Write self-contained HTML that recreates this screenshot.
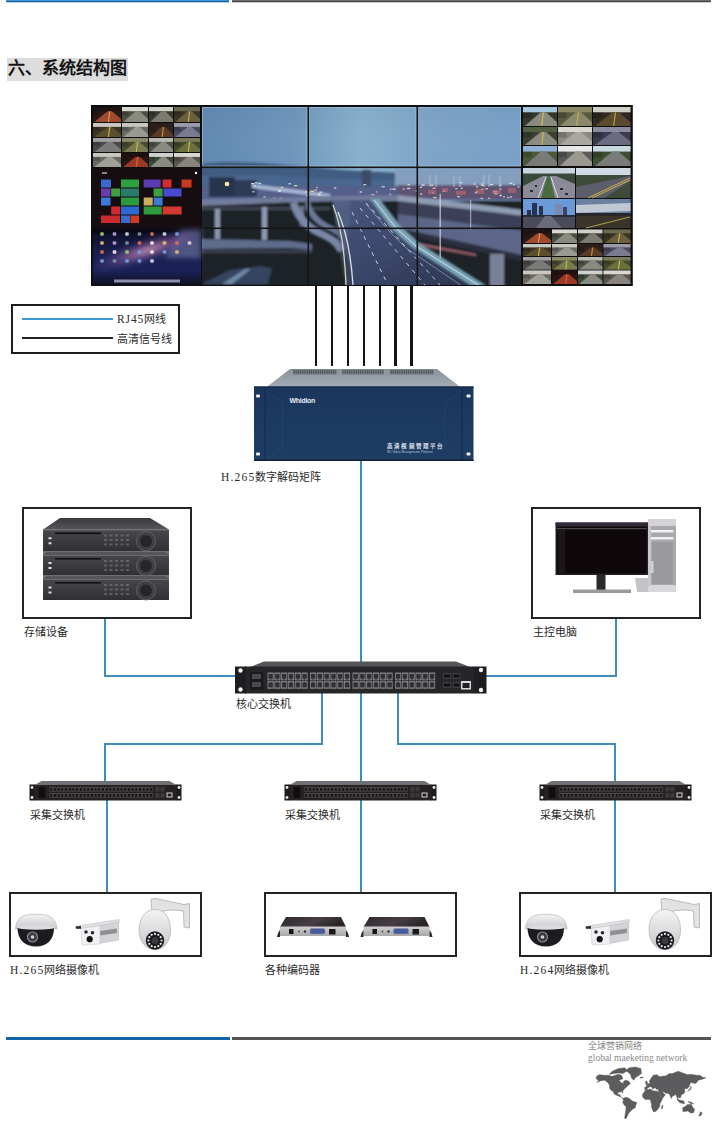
<!DOCTYPE html>
<html lang="zh-CN"><head><meta charset="utf-8">
<style>
*{margin:0;padding:0;box-sizing:border-box}
html,body{width:720px;height:1121px;background:#fff;overflow:hidden}
body{position:relative;font-family:"Liberation Serif",serif;color:#222}
.a{position:absolute}
.bl{position:absolute;background:#3f8cbf}
.lbl{position:absolute;font-size:11px;line-height:14px;white-space:nowrap;color:#2a2a2a;font-weight:bold}
.box{position:absolute;border:2px solid #242424;background:#fff}
</style></head><body>

<!-- top bars -->
<div class="a" style="left:6px;top:0;width:223px;height:3px;background:linear-gradient(#3a95dd 0,#3a95dd 1px,#1a64a0 1px,#1a64a0 2px,#9cc0dc 2px,#cfe0ee 3px);border-radius:0 0 0 2px"></div>
<div class="a" style="left:232px;top:0;width:479px;height:3px;background:linear-gradient(#6a6a6a 0,#6a6a6a 1px,#4a4a4a 1px,#4a4a4a 2px,#b0b0b0 2px,#dddddd 3px);border-radius:0 0 2px 0"></div>

<!-- title -->
<div class="a" style="left:7px;top:58px;width:121px;height:23px;background:#dddddd"></div>
<div class="a" style="left:8px;top:59px;font-size:17px;line-height:20px;font-weight:600;color:#151515;white-space:nowrap;letter-spacing:0px">六、系统结构图</div>

<!-- video wall -->
<!--WALL--><svg class="a" style="left:0;top:0" width="720" height="300" viewBox="0 0 720 300"><defs>
<linearGradient id="sky" x1="0" y1="0" x2="1" y2="0">
<stop offset="0" stop-color="#6089b2"/><stop offset="0.28" stop-color="#6e96bc"/><stop offset="0.5" stop-color="#8ab2cc"/><stop offset="0.72" stop-color="#7ea4c8"/><stop offset="1" stop-color="#7aa0c8"/>
</linearGradient>
<linearGradient id="skyv" x1="0" y1="0" x2="0" y2="1">
<stop offset="0" stop-color="#1a2a40" stop-opacity="0.04"/><stop offset="0.7" stop-color="#fff" stop-opacity="0"/><stop offset="1" stop-color="#1a2a40" stop-opacity="0.06"/>
</linearGradient>
<linearGradient id="mac" x1="0" y1="0" x2="0" y2="1">
<stop offset="0" stop-color="#0c0c22"/><stop offset="0.45" stop-color="#1a2050"/><stop offset="0.75" stop-color="#1a2258"/><stop offset="1" stop-color="#10101e"/>
</linearGradient>
<radialGradient id="gal" cx="0.5" cy="0.5" r="0.5">
<stop offset="0" stop-color="#e0a0c0" stop-opacity="0.9"/><stop offset="0.5" stop-color="#8a5aa0" stop-opacity="0.5"/><stop offset="1" stop-color="#3a3a80" stop-opacity="0"/>
</radialGradient>
<linearGradient id="road" x1="0" y1="0" x2="1" y2="1">
<stop offset="0" stop-color="#4a5880"/><stop offset="1" stop-color="#2c3652"/>
</linearGradient>
<filter id="bl3" x="-20%" y="-20%" width="140%" height="140%"><feGaussianBlur stdDeviation="2.5"/></filter>
<filter id="bl1" x="-5%" y="-5%" width="110%" height="110%"><feGaussianBlur stdDeviation="0.9"/></filter>
<clipPath id="cityclip"><rect x="202" y="107" width="319" height="178"/></clipPath>
</defs>
<!-- frame -->
<rect x="91" y="105" width="541.8" height="181" fill="#0e0e0e"/>
<!-- city photo -->
<g clip-path="url(#cityclip)">
<rect x="202" y="107" width="319" height="178" fill="url(#sky)"/>
<rect x="202" y="107" width="319" height="75" fill="url(#skyv)"/>
<g filter="url(#bl1)">
<polygon points="200,164 225,162 260,163 300,166 340,170 380,172 420,174 470,175 525,176 525,200 200,200" fill="#3f5c80"/>
<polygon points="200,176 260,175 320,178 400,180 525,182 525,200 200,200" fill="#4a6690"/>
<rect x="200" y="186" width="325" height="14" fill="#55608a"/>
<rect x="209" y="177" width="26" height="20" fill="#26344e"/>
<rect x="235" y="180" width="22" height="17" fill="#2e3a56"/>
<rect x="362" y="170" width="9" height="16" fill="#3a4c66"/>
<polygon points="395,168 525,168 525,186 395,186" fill="#849fbe"/>
<polygon points="252,184 330,194 330,198 252,188" fill="#a8b8d8"/>
<rect x="398" y="185" width="127" height="14" fill="#5e5272"/>
</g>
<circle cx="227" cy="184" r="2.3" fill="#ffe6a0"/>
<g opacity="0.8"><rect x="310.7" y="190.7" width="3.3" height="1.3" fill="#ffe0b0"/><rect x="375.8" y="191.3" width="1.5" height="1.3" fill="#f8d0c0"/><rect x="476.1" y="186.1" width="1.9" height="1.3" fill="#f0f4ff"/><rect x="442.9" y="190.7" width="2.5" height="1.3" fill="#f8d0c0"/><rect x="421.4" y="184.4" width="3.2" height="1.3" fill="#f0f4ff"/><rect x="389.4" y="193.9" width="1.8" height="1.3" fill="#e8eef8"/><rect x="509.3" y="182.7" width="3.1" height="1.3" fill="#e8eef8"/><rect x="319.4" y="191.5" width="2.9" height="1.3" fill="#d8e4f0"/><rect x="499.2" y="188.3" width="2.4" height="1.3" fill="#f8d0c0"/><rect x="503.2" y="196.1" width="1.6" height="1.3" fill="#e8eef8"/><rect x="381.6" y="186.1" width="3.1" height="1.3" fill="#d8e4f0"/><rect x="481.0" y="188.7" width="2.6" height="1.3" fill="#d8e4f0"/><rect x="392.4" y="188.5" width="3.3" height="1.3" fill="#f0f4ff"/><rect x="433.2" y="196.9" width="3.5" height="1.3" fill="#ffe0b0"/><rect x="430.3" y="184.6" width="3.4" height="1.3" fill="#ffe0b0"/><rect x="494.7" y="191.1" width="2.8" height="1.3" fill="#f0f4ff"/><rect x="517.7" y="186.3" width="1.6" height="1.3" fill="#e8eef8"/><rect x="480.7" y="197.8" width="2.2" height="1.3" fill="#e8eef8"/><rect x="263.4" y="196.4" width="2.1" height="1.3" fill="#e8eef8"/><rect x="457.2" y="196.0" width="2.7" height="1.3" fill="#e8eef8"/><rect x="455.2" y="188.0" width="2.2" height="1.3" fill="#f8d0c0"/><rect x="488.1" y="197.7" width="2.0" height="1.3" fill="#f8d0c0"/><rect x="254.9" y="182.1" width="2.7" height="1.3" fill="#e8eef8"/><rect x="253.7" y="185.2" width="2.1" height="1.3" fill="#d8e4f0"/><rect x="317.7" y="193.0" width="2.1" height="1.3" fill="#ffe0b0"/><rect x="509.6" y="196.3" width="2.3" height="1.3" fill="#d8e4f0"/><rect x="485.1" y="188.2" width="2.9" height="1.3" fill="#f8d0c0"/><rect x="273.3" y="197.6" width="2.0" height="1.3" fill="#f8d0c0"/><rect x="420.1" y="193.4" width="2.4" height="1.3" fill="#ffe0b0"/><rect x="316.3" y="186.8" width="1.5" height="1.3" fill="#ffe0b0"/><rect x="359.6" y="191.3" width="2.3" height="1.3" fill="#e8eef8"/><rect x="407.6" y="184.1" width="2.4" height="1.3" fill="#ffe0b0"/><rect x="432.5" y="187.6" width="3.0" height="1.3" fill="#ffe0b0"/><rect x="251.1" y="183.0" width="3.4" height="1.3" fill="#e8eef8"/><rect x="314.3" y="189.3" width="2.7" height="1.3" fill="#f8d0c0"/><rect x="294.0" y="185.0" width="3.2" height="1.3" fill="#ffe0b0"/><rect x="317.9" y="194.6" width="3.0" height="1.3" fill="#e8eef8"/><rect x="252.4" y="191.1" width="2.1" height="1.3" fill="#f0f4ff"/><rect x="306.4" y="194.9" width="2.2" height="1.3" fill="#f0f4ff"/><rect x="432.1" y="192.4" width="1.7" height="1.3" fill="#e8eef8"/><rect x="333.9" y="187.3" width="2.4" height="1.3" fill="#f0f4ff"/><rect x="481.1" y="184.7" width="3.0" height="1.3" fill="#ffe0b0"/><rect x="305.2" y="191.1" width="2.0" height="1.3" fill="#ffe0b0"/><rect x="278.4" y="190.5" width="2.1" height="1.3" fill="#f0f4ff"/><rect x="475.8" y="191.2" width="2.2" height="1.3" fill="#ffe0b0"/><rect x="473.5" y="183.4" width="2.2" height="1.3" fill="#f8d0c0"/><rect x="280.8" y="186.7" width="2.4" height="1.3" fill="#ffe0b0"/><rect x="420.0" y="186.6" width="2.3" height="1.3" fill="#f8d0c0"/><rect x="499.1" y="184.5" width="2.5" height="1.3" fill="#e8eef8"/><rect x="474.8" y="192.0" width="2.4" height="1.3" fill="#f8d0c0"/><rect x="507.2" y="196.8" width="1.6" height="1.3" fill="#f0f4ff"/><rect x="371.0" y="194.1" width="3.4" height="1.3" fill="#f8d0c0"/><rect x="395.1" y="196.2" width="3.2" height="1.3" fill="#e8eef8"/><rect x="513.0" y="183.9" width="1.6" height="1.3" fill="#f0f4ff"/><rect x="494.4" y="193.1" width="3.3" height="1.3" fill="#f0f4ff"/><rect x="493.3" y="191.2" width="2.5" height="1.3" fill="#e8eef8"/><rect x="278.3" y="190.1" width="2.8" height="1.3" fill="#f0f4ff"/><rect x="389.9" y="188.6" width="1.7" height="1.3" fill="#f8d0c0"/><rect x="279.6" y="197.6" width="2.5" height="1.3" fill="#f8d0c0"/><rect x="460.9" y="187.6" width="1.7" height="1.3" fill="#f0f4ff"/><rect x="490.0" y="183.9" width="3.1" height="1.3" fill="#f0f4ff"/><rect x="499.4" y="194.9" width="2.5" height="1.3" fill="#e8eef8"/><rect x="402.6" y="188.4" width="2.0" height="1.3" fill="#ffe0b0"/><rect x="415.6" y="190.3" width="2.4" height="1.3" fill="#e8eef8"/><rect x="459.3" y="182.0" width="3.1" height="1.3" fill="#e8eef8"/><rect x="257.7" y="182.8" width="3.4" height="1.3" fill="#d8e4f0"/><rect x="480.8" y="183.4" width="2.5" height="1.3" fill="#f8d0c0"/><rect x="288.3" y="183.1" width="2.8" height="1.3" fill="#d8e4f0"/><rect x="406.9" y="187.8" width="3.5" height="1.3" fill="#f0f4ff"/><rect x="363.3" y="184.0" width="2.9" height="1.3" fill="#e8eef8"/></g>
<g fill="#c06a70" opacity="0.6">
<rect x="428" y="190" width="8" height="4"/><rect x="442" y="188" width="6" height="4"/><rect x="456" y="191" width="10" height="4"/><rect x="476" y="189" width="8" height="5"/><rect x="492" y="190" width="9" height="4"/><rect x="508" y="188" width="8" height="5"/>
</g>
<g stroke="#a8bcd0" stroke-width="1">
<line x1="430" y1="175" x2="430" y2="187"/><line x1="436" y1="175" x2="436" y2="187"/><line x1="454" y1="176" x2="454" y2="187"/><line x1="460" y1="176" x2="460" y2="187"/><line x1="484" y1="175" x2="484" y2="187"/><line x1="489" y1="175" x2="489" y2="187"/><line x1="500" y1="176" x2="500" y2="187"/>
</g>
<g filter="url(#bl1)">
<rect x="200" y="201" width="325" height="88" fill="#1a2228"/>
<polygon points="200,200 300,197 400,195 400,200 300,202 200,206" fill="#727c9c"/>
<rect x="200" y="207" width="130" height="3" fill="#3e4654"/>
<rect x="215" y="209" width="5" height="30" fill="#8a96b0"/>
<rect x="262" y="207" width="5" height="33" fill="#8e9ab4"/>
<rect x="300" y="206" width="4" height="20" fill="#6a7282"/>
<polygon points="200,239 290,241 312,244 312,250 290,248 200,249" fill="#5e6c8c"/>
<rect x="200" y="250" width="112" height="3" fill="#3a4050"/>
<polygon points="202,284 230,270 260,266 272,268 268,284" fill="#34445e"/>
<polygon points="222,284 245,269 251,269 232,284" fill="#7088a8"/>
<path d="M297,202 Q303,222 325,232 Q342,240 346,250 L338,252 Q334,242 318,236 Q296,226 290,203 Z" fill="#7a88a8"/>
<path d="M310,202 Q314,218 332,226 Q344,232 348,240 L343,241 Q338,234 326,229 Q308,220 305,203 Z" fill="#6a7898"/>
<polygon points="398,196 525,211 525,231 398,214" fill="#3a4058"/>
<polygon points="398,195 525,210 525,216 398,201" fill="#8e9cb4"/>
<polygon points="398,214 525,231 525,256 398,228" fill="#5c6688"/>
<polygon points="398,228 525,256 525,262 398,234" fill="#2a2e3c"/>
<polygon points="418,243 476,254 476,256 418,245.5" fill="#a06070"/>
<rect x="490" y="254" width="14" height="32" fill="#7a8298"/>

<polygon points="332,200 370,200 392,228 412,246 474,286 352,286 342,240" fill="url(#road)"/>
<polygon points="332,200 350,200 350,220 345,260 352,286 346,286 338,240" fill="#5a6a8a" opacity="0.5"/>
<polygon points="370,199 379,199 400,226 420,244 486,286 472,286 412,247 392,229" fill="#7aa4b8"/>
</g>
<g stroke="#e6e0c8" stroke-width="1.3" fill="none" opacity="0.9">
<path d="M333,205 Q344,232 346,285"/><path d="M338,212 Q350,240 353,285" stroke="#f0f0f0"/>
</g>
<g stroke="#dfe4ec" stroke-width="1" fill="none" opacity="0.85">
<line x1="352" y1="212" x2="388" y2="285" stroke-dasharray="4,5"/>
<line x1="360" y1="208" x2="425" y2="285" stroke-dasharray="4,5"/>
<line x1="366" y1="203" x2="440" y2="285" stroke-dasharray="4,5"/>
<polyline points="374,200 396,228 416,246 480,286"/><polyline points="366,204 388,230 406,248 462,286" stroke-opacity="0.5"/>
</g>
<rect x="439.5" y="194" width="1.4" height="64" fill="#d8dde6" opacity="0.75"/>
<rect x="470" y="200" width="1.2" height="30" fill="#d8dde6" opacity="0.6"/>
</g>
<rect x="202.5" y="107.5" width="104.5" height="58.5" fill="none" stroke="#b0d0e4" stroke-width="1" opacity="0.5"/><rect x="309.6" y="107.5" width="106.39999999999998" height="58.5" fill="none" stroke="#b0d0e4" stroke-width="1" opacity="0.5"/><rect x="418.6" y="107.5" width="101.89999999999998" height="58.5" fill="none" stroke="#b0d0e4" stroke-width="1" opacity="0.5"/>
<!-- wall dividers -->
<rect x="307.5" y="107" width="1.6" height="178" fill="#151515"/>
<rect x="416.5" y="107" width="1.6" height="178" fill="#151515"/>
<rect x="202" y="166.5" width="319" height="1.6" fill="#151515"/>
<rect x="202" y="227.5" width="319" height="1.6" fill="#151515"/>
<!-- left panel win8 -->
<rect x="93" y="168" width="108" height="60" fill="#150d10"/>
<rect x="93" y="228" width="108" height="57" fill="url(#mac)"/>
<polygon points="93,229 201,229 201,232 93,234" fill="#0a0a14"/>
<g filter="url(#bl3)"><polygon points="180,230 201,229 201,258 165,258" fill="#7a84b0" opacity="0.55"/>
<ellipse cx="148" cy="250" rx="64" ry="12" fill="url(#gal)" transform="rotate(-18 148 250)"/></g>

<g>
<rect x="101" y="179.5" width="10" height="8" fill="#3a6ad0"/>
<rect x="121" y="179.5" width="18" height="8" fill="#2ea040"/>
<rect x="143.7" y="179.5" width="17" height="8" fill="#5a3ab0"/>
<rect x="162.6" y="179.5" width="9" height="8" fill="#d03030"/>
<rect x="181.6" y="179.5" width="10" height="8" fill="#c83a20"/>
<rect x="101" y="188.5" width="9.5" height="8" fill="#6a3ab0"/>
<rect x="111.2" y="188.5" width="9" height="8" fill="#3aa040"/>
<rect x="121" y="188.5" width="18" height="8" fill="#2a7a6a"/>
<rect x="153.6" y="188.5" width="9" height="8" fill="#3aa040"/>
<rect x="163.5" y="188.5" width="18" height="8" fill="#4a4ad0"/>
<rect x="101" y="197.5" width="9.5" height="8" fill="#3a7ad8"/>
<rect x="121" y="197.5" width="18" height="8" fill="#2e9a40"/>
<rect x="143.7" y="197.5" width="9" height="8" fill="#c8b060"/>
<rect x="153.6" y="197.5" width="9" height="8" fill="#3a7ad0"/>
<rect x="111.2" y="206.5" width="9" height="8" fill="#d02a30"/>
<rect x="121" y="206.5" width="18" height="8" fill="#2a6ad0"/>
<rect x="143.7" y="206.5" width="18" height="8" fill="#2e9a40"/>
<rect x="162.6" y="206.5" width="19" height="8" fill="#d03a30"/>
<rect x="101" y="215.5" width="19" height="7.5" fill="#c82a30"/>
<rect x="121" y="215.5" width="9" height="7.5" fill="#3a6ad0"/>
<rect x="130.5" y="215.5" width="8.5" height="7.5" fill="#d03a20"/>
<rect x="102" y="172" width="5" height="2" fill="#888"/>
<circle cx="196" cy="173" r="1.2" fill="#fff"/>
</g>
<g opacity="0.9"><rect x="100.2" y="232.2" width="3.6" height="3.6" rx="1" fill="#a0d070"/><rect x="112.7" y="232.2" width="3.6" height="3.6" rx="1" fill="#c0a0e0"/><rect x="125.2" y="232.2" width="3.6" height="3.6" rx="1" fill="#d8d8e0"/><rect x="137.7" y="232.2" width="3.6" height="3.6" rx="1" fill="#8090a0"/><rect x="150.2" y="232.2" width="3.6" height="3.6" rx="1" fill="#e07050"/><rect x="162.7" y="232.2" width="3.6" height="3.6" rx="1" fill="#d8d8e0"/><rect x="175.2" y="232.2" width="3.6" height="3.6" rx="1" fill="#70a0e0"/><rect x="100.2" y="241.2" width="3.6" height="3.6" rx="1" fill="#e0c070"/><rect x="112.7" y="241.2" width="3.6" height="3.6" rx="1" fill="#c0a0e0"/><rect x="125.2" y="241.2" width="3.6" height="3.6" rx="1" fill="#8090a0"/><rect x="137.7" y="241.2" width="3.6" height="3.6" rx="1" fill="#e07050"/><rect x="150.2" y="241.2" width="3.6" height="3.6" rx="1" fill="#f0f0f0"/><rect x="162.7" y="241.2" width="3.6" height="3.6" rx="1" fill="#e0c070"/><rect x="175.2" y="241.2" width="3.6" height="3.6" rx="1" fill="#e07050"/><rect x="187.7" y="241.2" width="3.6" height="3.6" rx="1" fill="#d8d8e0"/><rect x="100.2" y="250.2" width="3.6" height="3.6" rx="1" fill="#e07050"/><rect x="112.7" y="250.2" width="3.6" height="3.6" rx="1" fill="#f0f0f0"/><rect x="125.2" y="250.2" width="3.6" height="3.6" rx="1" fill="#a0d070"/><rect x="137.7" y="250.2" width="3.6" height="3.6" rx="1" fill="#70a0e0"/><rect x="150.2" y="250.2" width="3.6" height="3.6" rx="1" fill="#f0f0f0"/><rect x="162.7" y="250.2" width="3.6" height="3.6" rx="1" fill="#70a0e0"/><rect x="175.2" y="250.2" width="3.6" height="3.6" rx="1" fill="#e0c070"/><rect x="100.2" y="259.2" width="3.6" height="3.6" rx="1" fill="#70a0e0"/><rect x="112.7" y="259.2" width="3.6" height="3.6" rx="1" fill="#8090a0"/><rect x="125.2" y="259.2" width="3.6" height="3.6" rx="1" fill="#70a0e0"/><rect x="137.7" y="259.2" width="3.6" height="3.6" rx="1" fill="#70a0e0"/><rect x="150.2" y="259.2" width="3.6" height="3.6" rx="1" fill="#d8d8e0"/></g>
<rect x="114" y="279.5" width="66" height="3" fill="#b8b8d0" opacity="0.75"/>
<rect x="93" y="107" width="28" height="15" fill="#2a1a16"/><rect x="93" y="107" width="28" height="4.2" fill="#1e1414"/><polygon points="107.6,111.2 112.0,111.2 121.0,119.0 121.0,122 94.4,122" fill="#a04a30"/><rect x="93" y="111.2" width="7.0" height="4.5" fill="#000" opacity="0.18"/><line x1="109.8" y1="111.2" x2="108.4" y2="122" stroke="#e0a050" stroke-width="1.1"/>
<rect x="122" y="107" width="26" height="15" fill="#4a5040"/><rect x="122" y="107" width="26" height="4.2" fill="#d8d8d0"/><polygon points="135.5,111.2 139.7,111.2 148.0,119.0 148.0,122 123.3,122" fill="#8a8a80"/><rect x="122" y="111.2" width="6.5" height="4.5" fill="#000" opacity="0.18"/>
<rect x="149" y="107" width="24" height="15" fill="#3a3a34"/><rect x="149" y="107" width="24" height="4.2" fill="#d0d0c8"/><polygon points="161.5,111.2 165.3,111.2 173.0,119.0 173.0,122 150.2,122" fill="#7a7a70"/><rect x="149" y="111.2" width="6.0" height="4.5" fill="#000" opacity="0.18"/>
<rect x="174" y="107" width="26" height="15" fill="#3a3424"/><rect x="174" y="107" width="26" height="4.2" fill="#6a6a50"/><polygon points="187.5,111.2 191.7,111.2 200.0,119.0 200.0,122 175.3,122" fill="#6a6040"/><rect x="174" y="111.2" width="6.5" height="4.5" fill="#000" opacity="0.18"/><line x1="189.6" y1="111.2" x2="188.3" y2="122" stroke="#d0b040" stroke-width="1.1"/>
<rect x="93" y="123" width="28" height="14" fill="#3a3420"/><rect x="93" y="123" width="28" height="3.9" fill="#c8c8c0"/><polygon points="107.6,126.9 112.0,126.9 121.0,134.2 121.0,137 94.4,137" fill="#5a5030"/><rect x="93" y="126.9" width="7.0" height="4.2" fill="#000" opacity="0.18"/><line x1="109.8" y1="126.9" x2="108.4" y2="137" stroke="#d0b040" stroke-width="1.1"/>
<rect x="122" y="123" width="26" height="14" fill="#6a6a64"/><rect x="122" y="123" width="26" height="3.9" fill="#c8c8c0"/><polygon points="135.5,126.9 139.7,126.9 148.0,134.2 148.0,137 123.3,137" fill="#9a9a94"/><rect x="122" y="126.9" width="6.5" height="4.2" fill="#000" opacity="0.18"/>
<rect x="149" y="123" width="24" height="14" fill="#30221c"/><rect x="149" y="123" width="24" height="3.9" fill="#2a1e1a"/><polygon points="161.5,126.9 165.3,126.9 173.0,134.2 173.0,137 150.2,137" fill="#5a3a28"/><rect x="149" y="126.9" width="6.0" height="4.2" fill="#000" opacity="0.18"/><line x1="163.4" y1="126.9" x2="162.2" y2="137" stroke="#d09030" stroke-width="1.1"/>
<rect x="174" y="123" width="26" height="14" fill="#4a4a5e"/><rect x="174" y="123" width="26" height="3.9" fill="#9a9aaa"/><polygon points="187.5,126.9 191.7,126.9 200.0,134.2 200.0,137 175.3,137" fill="#7a7a90"/><rect x="174" y="126.9" width="6.5" height="4.2" fill="#000" opacity="0.18"/>
<rect x="93" y="138" width="28" height="14" fill="#4a4a4a"/><rect x="93" y="138" width="28" height="3.9" fill="#a0a0a0"/><polygon points="107.6,141.9 112.0,141.9 121.0,149.2 121.0,152 94.4,152" fill="#7a7a78"/><rect x="93" y="141.9" width="7.0" height="4.2" fill="#000" opacity="0.18"/>
<rect x="122" y="138" width="26" height="14" fill="#4a4a30"/><rect x="122" y="138" width="26" height="3.9" fill="#8a8a68"/><polygon points="135.5,141.9 139.7,141.9 148.0,149.2 148.0,152 123.3,152" fill="#7a7a50"/><rect x="122" y="141.9" width="6.5" height="4.2" fill="#000" opacity="0.18"/><line x1="137.6" y1="141.9" x2="136.3" y2="152" stroke="#c0c040" stroke-width="1.1"/>
<rect x="149" y="138" width="24" height="14" fill="#4e5248"/><rect x="149" y="138" width="24" height="3.9" fill="#b8b8b0"/><polygon points="161.5,141.9 165.3,141.9 173.0,149.2 173.0,152 150.2,152" fill="#8a8a82"/><rect x="149" y="141.9" width="6.0" height="4.2" fill="#000" opacity="0.18"/>
<rect x="174" y="138" width="26" height="14" fill="#444a2a"/><rect x="174" y="138" width="26" height="3.9" fill="#7a7a58"/><polygon points="187.5,141.9 191.7,141.9 200.0,149.2 200.0,152 175.3,152" fill="#6a7040"/><rect x="174" y="141.9" width="6.5" height="4.2" fill="#000" opacity="0.18"/><line x1="189.6" y1="141.9" x2="188.3" y2="152" stroke="#c0c040" stroke-width="1.1"/>
<rect x="93" y="153" width="28" height="14" fill="#6a6a62"/><rect x="93" y="153" width="28" height="3.9" fill="#c8c8c0"/><polygon points="107.6,156.9 112.0,156.9 121.0,164.2 121.0,167 94.4,167" fill="#a0a098"/><rect x="93" y="156.9" width="7.0" height="4.2" fill="#000" opacity="0.18"/>
<rect x="122" y="153" width="26" height="14" fill="#2a1616"/><rect x="122" y="153" width="26" height="3.9" fill="#201010"/><polygon points="135.5,156.9 139.7,156.9 148.0,164.2 148.0,167 123.3,167" fill="#9a3a24"/><rect x="122" y="156.9" width="6.5" height="4.2" fill="#000" opacity="0.18"/><line x1="137.6" y1="156.9" x2="136.3" y2="167" stroke="#e06040" stroke-width="1.1"/>
<rect x="149" y="153" width="24" height="14" fill="#3a4a36"/><rect x="149" y="153" width="24" height="3.9" fill="#d0d0d0"/><polygon points="161.5,156.9 165.3,156.9 173.0,164.2 173.0,167 150.2,167" fill="#8a8a84"/><rect x="149" y="156.9" width="6.0" height="4.2" fill="#000" opacity="0.18"/>
<rect x="174" y="153" width="26" height="14" fill="#5a544c"/><rect x="174" y="153" width="26" height="3.9" fill="#d8d8d0"/><polygon points="187.5,156.9 191.7,156.9 200.0,164.2 200.0,167 175.3,167" fill="#8a8480"/><rect x="174" y="156.9" width="6.5" height="4.2" fill="#000" opacity="0.18"/>
<rect x="523" y="229.5" width="28" height="13.5" fill="#2a1a16"/><rect x="523" y="229.5" width="28" height="3.8" fill="#1e1414"/><polygon points="537.6,233.3 542.0,233.3 551.0,240.3 551.0,243.0 524.4,243.0" fill="#a04a30"/><rect x="523" y="233.3" width="7.0" height="4.0" fill="#000" opacity="0.18"/><line x1="539.8" y1="233.3" x2="538.4" y2="243.0" stroke="#e0a050" stroke-width="1.1"/>
<rect x="552" y="229.5" width="25" height="13.5" fill="#4a5040"/><rect x="552" y="229.5" width="25" height="3.8" fill="#d8d8d0"/><polygon points="565.0,233.3 569.0,233.3 577.0,240.3 577.0,243.0 553.2,243.0" fill="#8a8a80"/><rect x="552" y="233.3" width="6.2" height="4.0" fill="#000" opacity="0.18"/>
<rect x="578" y="229.5" width="24.5" height="13.5" fill="#3a3a34"/><rect x="578" y="229.5" width="24.5" height="3.8" fill="#d0d0c8"/><polygon points="590.7,233.3 594.7,233.3 602.5,240.3 602.5,243.0 579.2,243.0" fill="#7a7a70"/><rect x="578" y="233.3" width="6.1" height="4.0" fill="#000" opacity="0.18"/>
<rect x="603.5" y="229.5" width="27.0" height="13.5" fill="#3a3424"/><rect x="603.5" y="229.5" width="27.0" height="3.8" fill="#6a6a50"/><polygon points="617.5,233.3 621.9,233.3 630.5,240.3 630.5,243.0 604.9,243.0" fill="#6a6040"/><rect x="603.5" y="233.3" width="6.8" height="4.0" fill="#000" opacity="0.18"/><line x1="619.7" y1="233.3" x2="618.4" y2="243.0" stroke="#d0b040" stroke-width="1.1"/>
<rect x="523" y="244" width="28" height="12" fill="#3a3420"/><rect x="523" y="244" width="28" height="3.4" fill="#c8c8c0"/><polygon points="537.6,247.4 542.0,247.4 551.0,253.6 551.0,256 524.4,256" fill="#5a5030"/><rect x="523" y="247.4" width="7.0" height="3.6" fill="#000" opacity="0.18"/><line x1="539.8" y1="247.4" x2="538.4" y2="256" stroke="#d0b040" stroke-width="1.1"/>
<rect x="552" y="244" width="25" height="12" fill="#6a6a64"/><rect x="552" y="244" width="25" height="3.4" fill="#c8c8c0"/><polygon points="565.0,247.4 569.0,247.4 577.0,253.6 577.0,256 553.2,256" fill="#9a9a94"/><rect x="552" y="247.4" width="6.2" height="3.6" fill="#000" opacity="0.18"/>
<rect x="578" y="244" width="24.5" height="12" fill="#30221c"/><rect x="578" y="244" width="24.5" height="3.4" fill="#2a1e1a"/><polygon points="590.7,247.4 594.7,247.4 602.5,253.6 602.5,256 579.2,256" fill="#5a3a28"/><rect x="578" y="247.4" width="6.1" height="3.6" fill="#000" opacity="0.18"/><line x1="592.7" y1="247.4" x2="591.5" y2="256" stroke="#d09030" stroke-width="1.1"/>
<rect x="603.5" y="244" width="27.0" height="12" fill="#4a4a5e"/><rect x="603.5" y="244" width="27.0" height="3.4" fill="#9a9aaa"/><polygon points="617.5,247.4 621.9,247.4 630.5,253.6 630.5,256 604.9,256" fill="#7a7a90"/><rect x="603.5" y="247.4" width="6.8" height="3.6" fill="#000" opacity="0.18"/>
<rect x="523" y="257" width="28" height="12.5" fill="#4a4a4a"/><rect x="523" y="257" width="28" height="3.5" fill="#a0a0a0"/><polygon points="537.6,260.5 542.0,260.5 551.0,267.0 551.0,269.5 524.4,269.5" fill="#7a7a78"/><rect x="523" y="260.5" width="7.0" height="3.8" fill="#000" opacity="0.18"/>
<rect x="552" y="257" width="25" height="12.5" fill="#4a4a30"/><rect x="552" y="257" width="25" height="3.5" fill="#8a8a68"/><polygon points="565.0,260.5 569.0,260.5 577.0,267.0 577.0,269.5 553.2,269.5" fill="#7a7a50"/><rect x="552" y="260.5" width="6.2" height="3.8" fill="#000" opacity="0.18"/><line x1="567.0" y1="260.5" x2="565.8" y2="269.5" stroke="#c0c040" stroke-width="1.1"/>
<rect x="578" y="257" width="24.5" height="12.5" fill="#4e5248"/><rect x="578" y="257" width="24.5" height="3.5" fill="#b8b8b0"/><polygon points="590.7,260.5 594.7,260.5 602.5,267.0 602.5,269.5 579.2,269.5" fill="#8a8a82"/><rect x="578" y="260.5" width="6.1" height="3.8" fill="#000" opacity="0.18"/>
<rect x="603.5" y="257" width="27.0" height="12.5" fill="#444a2a"/><rect x="603.5" y="257" width="27.0" height="3.5" fill="#7a7a58"/><polygon points="617.5,260.5 621.9,260.5 630.5,267.0 630.5,269.5 604.9,269.5" fill="#6a7040"/><rect x="603.5" y="260.5" width="6.8" height="3.8" fill="#000" opacity="0.18"/><line x1="619.7" y1="260.5" x2="618.4" y2="269.5" stroke="#c0c040" stroke-width="1.1"/>
<rect x="523" y="270.5" width="28" height="13.5" fill="#6a6a62"/><rect x="523" y="270.5" width="28" height="3.8" fill="#c8c8c0"/><polygon points="537.6,274.3 542.0,274.3 551.0,281.3 551.0,284.0 524.4,284.0" fill="#a0a098"/><rect x="523" y="274.3" width="7.0" height="4.0" fill="#000" opacity="0.18"/>
<rect x="552" y="270.5" width="25" height="13.5" fill="#2a1616"/><rect x="552" y="270.5" width="25" height="3.8" fill="#201010"/><polygon points="565.0,274.3 569.0,274.3 577.0,281.3 577.0,284.0 553.2,284.0" fill="#9a3a24"/><rect x="552" y="274.3" width="6.2" height="4.0" fill="#000" opacity="0.18"/><line x1="567.0" y1="274.3" x2="565.8" y2="284.0" stroke="#e06040" stroke-width="1.1"/>
<rect x="578" y="270.5" width="24.5" height="13.5" fill="#3a4a36"/><rect x="578" y="270.5" width="24.5" height="3.8" fill="#d0d0d0"/><polygon points="590.7,274.3 594.7,274.3 602.5,281.3 602.5,284.0 579.2,284.0" fill="#8a8a84"/><rect x="578" y="274.3" width="6.1" height="4.0" fill="#000" opacity="0.18"/>
<rect x="603.5" y="270.5" width="27.0" height="13.5" fill="#5a544c"/><rect x="603.5" y="270.5" width="27.0" height="3.8" fill="#d8d8d0"/><polygon points="617.5,274.3 621.9,274.3 630.5,281.3 630.5,284.0 604.9,284.0" fill="#8a8480"/><rect x="603.5" y="274.3" width="6.8" height="4.0" fill="#000" opacity="0.18"/>
<rect x="523" y="107" width="34" height="19" fill="#34382c"/><rect x="523" y="107" width="34" height="5.3" fill="#a8c8e0"/><polygon points="540.7,112.3 546.1,112.3 557.0,122.2 557.0,126 524.7,126" fill="#8a8a80"/><rect x="523" y="112.3" width="8.5" height="5.7" fill="#000" opacity="0.18"/><line x1="543.4" y1="112.3" x2="541.7" y2="126" stroke="#d0c040" stroke-width="1.1"/>
<rect x="558" y="107" width="34" height="19" fill="#5a5a40"/><rect x="558" y="107" width="34" height="5.3" fill="#8a8a68"/><polygon points="575.7,112.3 581.1,112.3 592.0,122.2 592.0,126 559.7,126" fill="#8a8a6a"/><rect x="558" y="112.3" width="8.5" height="5.7" fill="#000" opacity="0.18"/><line x1="578.4" y1="112.3" x2="576.7" y2="126" stroke="#c0b060" stroke-width="1.1"/>
<rect x="593" y="107" width="37.5" height="19" fill="#2e2a22"/><rect x="593" y="107" width="37.5" height="5.3" fill="#d0d0c8"/><polygon points="612.5,112.3 618.5,112.3 630.5,122.2 630.5,126 594.9,126" fill="#5a4a30"/><rect x="593" y="112.3" width="9.4" height="5.7" fill="#000" opacity="0.18"/><line x1="615.5" y1="112.3" x2="613.6" y2="126" stroke="#d0a030" stroke-width="1.1"/>
<rect x="523" y="127" width="34" height="18" fill="#3a4030"/><rect x="523" y="127" width="34" height="5.0" fill="#506040"/><polygon points="540.7,132.0 546.1,132.0 557.0,141.4 557.0,145 524.7,145" fill="#8a8a80"/><rect x="523" y="132.0" width="8.5" height="5.4" fill="#000" opacity="0.18"/><line x1="543.4" y1="132.0" x2="541.7" y2="145" stroke="#d0c040" stroke-width="1.1"/>
<rect x="558" y="127" width="34" height="18" fill="#8a8a80"/><rect x="558" y="127" width="34" height="5.0" fill="#d8d8d0"/><polygon points="575.7,132.0 581.1,132.0 592.0,141.4 592.0,145 559.7,145" fill="#a8a8a0"/><rect x="558" y="132.0" width="8.5" height="5.4" fill="#000" opacity="0.18"/>
<rect x="593" y="127" width="37.5" height="18" fill="#3a3a50"/><rect x="593" y="127" width="37.5" height="5.0" fill="#8a8aa0"/><polygon points="612.5,132.0 618.5,132.0 630.5,141.4 630.5,145 594.9,145" fill="#6a6a80"/><rect x="593" y="132.0" width="9.4" height="5.4" fill="#000" opacity="0.18"/>
<rect x="523" y="146" width="34" height="20" fill="#4a5a38"/><rect x="523" y="146" width="34" height="5.6" fill="#90b0d8"/><polygon points="540.7,151.6 546.1,151.6 557.0,162.0 557.0,166 524.7,166" fill="#7a7a78"/><rect x="523" y="151.6" width="8.5" height="6.0" fill="#000" opacity="0.18"/>
<rect x="558" y="146" width="34" height="20" fill="#5a5a58"/><rect x="558" y="146" width="34" height="5.6" fill="#e8e8e8"/><polygon points="575.7,151.6 581.1,151.6 592.0,162.0 592.0,166 559.7,166" fill="#9a9890"/><rect x="558" y="151.6" width="8.5" height="6.0" fill="#000" opacity="0.18"/>
<rect x="593" y="146" width="37.5" height="20" fill="#3a5030"/><rect x="593" y="146" width="37.5" height="5.6" fill="#c8d8e0"/><polygon points="612.5,151.6 618.5,151.6 630.5,162.0 630.5,166 594.9,166" fill="#7a7a78"/><rect x="593" y="151.6" width="9.4" height="6.0" fill="#000" opacity="0.18"/>
<rect x="523" y="168" width="52" height="30" fill="#3a4a3a"/>
<rect x="523" y="168" width="52" height="5.5" fill="#c8d4e0"/>
<polygon points="523,198 575,198 575,184 556,176 543,176 523,186" fill="#8a8a98"/>
<polygon points="547,176 550,176 555,198 541,198" fill="#4a6a40"/>
<g stroke="#e8e8f0" stroke-width="0.9"><line x1="546" y1="177" x2="538" y2="198"/><line x1="551" y1="177" x2="558" y2="198"/></g>
<g fill="#2a2a30"><rect x="530" y="190" width="3" height="2"/><rect x="560" y="188" width="3" height="2"/><rect x="565" y="193" width="3" height="2"/><rect x="535" y="185" width="2" height="2"/></g>
<rect x="576" y="168" width="54.5" height="30" fill="#3e4a3a"/>
<rect x="576" y="168" width="54.5" height="7" fill="#d0dae4"/>
<polygon points="576,198 604,198 630.5,181 630.5,176 576,187" fill="#5e5e6a"/>
<g stroke="#c8b050" stroke-width="1"><line x1="588" y1="198" x2="630" y2="178"/><line x1="592" y1="198" x2="630" y2="180"/></g>
<rect x="523" y="199" width="52" height="29" fill="#4a4a58"/>
<rect x="523" y="199" width="52" height="16" fill="#6a9ad8"/>
<g fill="#2a3450"><rect x="532" y="203" width="5" height="13"/><rect x="539" y="206" width="4" height="10"/><rect x="527" y="210" width="4" height="6"/></g>
<rect x="555" y="204" width="7" height="12" fill="#7a8ab0"/>
<rect x="563" y="207" width="4" height="9" fill="#3a4466"/>
<rect x="523" y="215" width="52" height="2" fill="#2a2e3a"/>
<polygon points="545,216 551,216 562,228 536,228" fill="#6a6a7a"/>
<rect x="576" y="199" width="54.5" height="29" fill="#3a342a"/>
<rect x="576" y="199" width="54.5" height="15" fill="#6a80a0"/>
<polygon points="576,205 630.5,203 630.5,211 576,213" fill="#c0c8d4"/>
<rect x="576" y="213" width="54.5" height="3" fill="#26262c"/>
<g stroke="#b0a050" stroke-width="1"><line x1="586" y1="228" x2="630" y2="217"/></g></svg><!--/WALL-->

<!-- cables -->
<div class="a" style="left:314.9px;top:285px;width:2.6px;height:81px;background:#141414"></div>
<div class="a" style="left:330.8px;top:285px;width:2.6px;height:81px;background:#141414"></div>
<div class="a" style="left:346.7px;top:285px;width:2.6px;height:81px;background:#141414"></div>
<div class="a" style="left:362.6px;top:285px;width:2.6px;height:81px;background:#141414"></div>
<div class="a" style="left:378.5px;top:285px;width:2.6px;height:81px;background:#141414"></div>
<div class="a" style="left:394.4px;top:285px;width:2.6px;height:81px;background:#141414"></div>
<div class="a" style="left:410.3px;top:285px;width:2.6px;height:81px;background:#141414"></div>
<!-- legend -->
<div class="a" style="left:11px;top:304px;width:169px;height:50px;border:2px solid #1e1e1e"></div>
<div class="a" style="left:22px;top:318px;width:91px;height:2px;background:#3a9ad0"></div>
<div class="a" style="left:22px;top:337px;width:91px;height:2px;background:#222"></div>
<div class="lbl" style="left:117px;top:312px;font-weight:500"><span style="letter-spacing:0.9px;font-size:11.5px">RJ45</span>网线</div>
<div class="lbl" style="left:117px;top:332px;font-weight:500">高清信号线</div>

<!-- decoder -->

<div class="lbl" style="left:221px;top:470px;font-weight:500"><span style="letter-spacing:1.2px;font-size:11.5px">H.265</span>数字解码矩阵</div>

<!-- blue lines -->
<div class="bl" style="left:359.5px;top:461px;width:2px;height:202px"></div>
<div class="bl" style="left:104px;top:618px;width:2px;height:58px"></div>
<div class="bl" style="left:104px;top:674.6px;width:131px;height:2px"></div>
<div class="bl" style="left:615px;top:618px;width:2px;height:58px"></div>
<div class="bl" style="left:485px;top:674.6px;width:132px;height:2px"></div>
<div class="bl" style="left:321px;top:692px;width:2px;height:53px"></div>
<div class="bl" style="left:104px;top:742.8px;width:219px;height:2px"></div>
<div class="bl" style="left:104px;top:742.8px;width:2px;height:38.5px"></div>
<div class="bl" style="left:359.5px;top:692px;width:2px;height:89px"></div>
<div class="bl" style="left:397px;top:692px;width:2px;height:53px"></div>
<div class="bl" style="left:397px;top:742.8px;width:219px;height:2px"></div>
<div class="bl" style="left:614px;top:742.8px;width:2px;height:38.5px"></div>
<div class="bl" style="left:106px;top:800px;width:2px;height:92px"></div>
<div class="bl" style="left:359.5px;top:800px;width:2px;height:92px"></div>
<div class="bl" style="left:614px;top:800px;width:2px;height:92px"></div>
<!-- storage -->
<div class="box" style="left:22px;top:507px;width:170px;height:112px"></div>
<div class="lbl" style="left:24px;top:625px;font-weight:500">存储设备</div>

<!-- computer -->
<div class="box" style="left:531px;top:507px;width:170px;height:112px"></div>
<div class="lbl" style="left:533px;top:625px;font-weight:500">主控电脑</div>

<!-- core switch -->

<div class="lbl" style="left:236px;top:697px;font-weight:500">核心交换机</div>

<!-- access switches -->

<div class="lbl" style="left:30px;top:808px;font-weight:500">采集交换机</div>

<div class="lbl" style="left:285px;top:808px;font-weight:500">采集交换机</div>

<div class="lbl" style="left:540px;top:808px;font-weight:500">采集交换机</div>

<!-- camera boxes -->
<div class="box" style="left:9px;top:892px;width:193px;height:65px"></div>
<div class="lbl" style="left:10px;top:963px;font-weight:500"><span style="letter-spacing:1.2px;font-size:11.5px">H.265</span>网络摄像机</div>
<div class="box" style="left:264px;top:892px;width:193px;height:65px"></div>
<div class="lbl" style="left:265px;top:963px;font-weight:500">各种编码器</div>
<div class="box" style="left:519px;top:892px;width:193px;height:65px"></div>
<div class="lbl" style="left:520px;top:963px;font-weight:500"><span style="letter-spacing:1.2px;font-size:11.5px">H.264</span>网络摄像机</div>

<!--DEV--><svg class="a" style="left:0;top:0" width="720" height="1121" viewBox="0 0 720 1121">
<defs>
<linearGradient id="lid" x1="0" y1="0" x2="0" y2="1"><stop offset="0" stop-color="#8a929b"/><stop offset="1" stop-color="#a4acb4"/></linearGradient>
<linearGradient id="front" x1="0" y1="0" x2="0" y2="1"><stop offset="0" stop-color="#1a365c"/><stop offset="1" stop-color="#1f3d64"/></linearGradient>
<linearGradient id="nvrf" x1="0" y1="0" x2="0" y2="1"><stop offset="0" stop-color="#48484c"/><stop offset="1" stop-color="#303034"/></linearGradient>
<linearGradient id="nvrl" x1="0" y1="0" x2="0" y2="1"><stop offset="0" stop-color="#3a3a3e"/><stop offset="1" stop-color="#56565a"/></linearGradient>
<linearGradient id="silver" x1="0" y1="0" x2="1" y2="0"><stop offset="0" stop-color="#9a9a9c"/><stop offset="0.4" stop-color="#d8d8da"/><stop offset="1" stop-color="#b0b0b2"/></linearGradient>
<linearGradient id="dome" x1="0" y1="0" x2="0" y2="1"><stop offset="0" stop-color="#f4f4f4"/><stop offset="1" stop-color="#c8c8cc"/></linearGradient>
<linearGradient id="encl" x1="0" y1="0" x2="1" y2="0.3"><stop offset="0" stop-color="#2e282c"/><stop offset="0.6" stop-color="#463e44"/><stop offset="1" stop-color="#2a2428"/></linearGradient>
<linearGradient id="encf" x1="0" y1="0" x2="0" y2="1"><stop offset="0" stop-color="#cfcfd0"/><stop offset="1" stop-color="#a8a8aa"/></linearGradient>
</defs>
<polygon points="290,369 437,369 461,387.5 266,387.5" fill="url(#lid)"/>
<rect x="293" y="369.5" width="43" height="5" fill="#7a7e86"/>
<rect x="293.5" y="370" width="1" height="4" fill="#3a3e44" opacity="0.7"/>
<rect x="295.7" y="370" width="1" height="4" fill="#3a3e44" opacity="0.7"/>
<rect x="297.9" y="370" width="1" height="4" fill="#3a3e44" opacity="0.7"/>
<rect x="300.1" y="370" width="1" height="4" fill="#3a3e44" opacity="0.7"/>
<rect x="302.3" y="370" width="1" height="4" fill="#3a3e44" opacity="0.7"/>
<rect x="304.5" y="370" width="1" height="4" fill="#3a3e44" opacity="0.7"/>
<rect x="306.7" y="370" width="1" height="4" fill="#3a3e44" opacity="0.7"/>
<rect x="308.9" y="370" width="1" height="4" fill="#3a3e44" opacity="0.7"/>
<rect x="311.1" y="370" width="1" height="4" fill="#3a3e44" opacity="0.7"/>
<rect x="313.3" y="370" width="1" height="4" fill="#3a3e44" opacity="0.7"/>
<rect x="315.5" y="370" width="1" height="4" fill="#3a3e44" opacity="0.7"/>
<rect x="317.7" y="370" width="1" height="4" fill="#3a3e44" opacity="0.7"/>
<rect x="319.9" y="370" width="1" height="4" fill="#3a3e44" opacity="0.7"/>
<rect x="322.1" y="370" width="1" height="4" fill="#3a3e44" opacity="0.7"/>
<rect x="324.3" y="370" width="1" height="4" fill="#3a3e44" opacity="0.7"/>
<rect x="326.5" y="370" width="1" height="4" fill="#3a3e44" opacity="0.7"/>
<rect x="328.7" y="370" width="1" height="4" fill="#3a3e44" opacity="0.7"/>
<rect x="330.9" y="370" width="1" height="4" fill="#3a3e44" opacity="0.7"/>
<rect x="333.1" y="370" width="1" height="4" fill="#3a3e44" opacity="0.7"/>
<rect x="335.3" y="370" width="1" height="4" fill="#3a3e44" opacity="0.7"/>
<rect x="342" y="369.5" width="42" height="5" fill="#7a7e86"/>
<rect x="342.5" y="370" width="1" height="4" fill="#3a3e44" opacity="0.7"/>
<rect x="344.7" y="370" width="1" height="4" fill="#3a3e44" opacity="0.7"/>
<rect x="346.9" y="370" width="1" height="4" fill="#3a3e44" opacity="0.7"/>
<rect x="349.1" y="370" width="1" height="4" fill="#3a3e44" opacity="0.7"/>
<rect x="351.3" y="370" width="1" height="4" fill="#3a3e44" opacity="0.7"/>
<rect x="353.5" y="370" width="1" height="4" fill="#3a3e44" opacity="0.7"/>
<rect x="355.7" y="370" width="1" height="4" fill="#3a3e44" opacity="0.7"/>
<rect x="357.9" y="370" width="1" height="4" fill="#3a3e44" opacity="0.7"/>
<rect x="360.1" y="370" width="1" height="4" fill="#3a3e44" opacity="0.7"/>
<rect x="362.3" y="370" width="1" height="4" fill="#3a3e44" opacity="0.7"/>
<rect x="364.5" y="370" width="1" height="4" fill="#3a3e44" opacity="0.7"/>
<rect x="366.7" y="370" width="1" height="4" fill="#3a3e44" opacity="0.7"/>
<rect x="368.9" y="370" width="1" height="4" fill="#3a3e44" opacity="0.7"/>
<rect x="371.1" y="370" width="1" height="4" fill="#3a3e44" opacity="0.7"/>
<rect x="373.3" y="370" width="1" height="4" fill="#3a3e44" opacity="0.7"/>
<rect x="375.5" y="370" width="1" height="4" fill="#3a3e44" opacity="0.7"/>
<rect x="377.7" y="370" width="1" height="4" fill="#3a3e44" opacity="0.7"/>
<rect x="379.9" y="370" width="1" height="4" fill="#3a3e44" opacity="0.7"/>
<rect x="382.1" y="370" width="1" height="4" fill="#3a3e44" opacity="0.7"/>
<rect x="390" y="369.5" width="43" height="5" fill="#7a7e86"/>
<rect x="390.5" y="370" width="1" height="4" fill="#3a3e44" opacity="0.7"/>
<rect x="392.7" y="370" width="1" height="4" fill="#3a3e44" opacity="0.7"/>
<rect x="394.9" y="370" width="1" height="4" fill="#3a3e44" opacity="0.7"/>
<rect x="397.1" y="370" width="1" height="4" fill="#3a3e44" opacity="0.7"/>
<rect x="399.3" y="370" width="1" height="4" fill="#3a3e44" opacity="0.7"/>
<rect x="401.5" y="370" width="1" height="4" fill="#3a3e44" opacity="0.7"/>
<rect x="403.7" y="370" width="1" height="4" fill="#3a3e44" opacity="0.7"/>
<rect x="405.9" y="370" width="1" height="4" fill="#3a3e44" opacity="0.7"/>
<rect x="408.1" y="370" width="1" height="4" fill="#3a3e44" opacity="0.7"/>
<rect x="410.3" y="370" width="1" height="4" fill="#3a3e44" opacity="0.7"/>
<rect x="412.5" y="370" width="1" height="4" fill="#3a3e44" opacity="0.7"/>
<rect x="414.7" y="370" width="1" height="4" fill="#3a3e44" opacity="0.7"/>
<rect x="416.9" y="370" width="1" height="4" fill="#3a3e44" opacity="0.7"/>
<rect x="419.1" y="370" width="1" height="4" fill="#3a3e44" opacity="0.7"/>
<rect x="421.3" y="370" width="1" height="4" fill="#3a3e44" opacity="0.7"/>
<rect x="423.5" y="370" width="1" height="4" fill="#3a3e44" opacity="0.7"/>
<rect x="425.7" y="370" width="1" height="4" fill="#3a3e44" opacity="0.7"/>
<rect x="427.9" y="370" width="1" height="4" fill="#3a3e44" opacity="0.7"/>
<rect x="430.1" y="370" width="1" height="4" fill="#3a3e44" opacity="0.7"/>
<rect x="432.3" y="370" width="1" height="4" fill="#3a3e44" opacity="0.7"/>
<rect x="254" y="386.5" width="219.5" height="74.5" fill="url(#front)"/>
<rect x="254" y="386.5" width="219.5" height="1.5" fill="#172a4a"/>
<rect x="254" y="459.5" width="219.5" height="1.5" fill="#141f38"/>
<rect x="264.5" y="388" width="1" height="72" fill="#16284a"/>
<rect x="461.5" y="388" width="1" height="72" fill="#16284a"/>
<polyline points="265.5,391 282.5,403 282.5,448 265.5,459" fill="none" stroke="#2e4a7a" stroke-width="0.8" opacity="0.6"/>
<polyline points="461,391 445,403 445,448 461,459" fill="none" stroke="#2e4a7a" stroke-width="0.8" opacity="0.6"/>
<rect x="256" y="394.5" width="4" height="3" rx="1" fill="#f0f0f0"/>
<rect x="256" y="452.5" width="4" height="3" rx="1" fill="#f0f0f0"/>
<rect x="466.5" y="394.5" width="4" height="3" rx="1" fill="#f0f0f0"/>
<rect x="466.5" y="452.5" width="4" height="3" rx="1" fill="#f0f0f0"/>
<text x="289.5" y="402.5" font-family="Liberation Sans" font-weight="bold" font-size="7" fill="#e8ecf4" letter-spacing="-0.3">Whidion</text>
<text x="387" y="448" font-family="Liberation Sans" font-weight="bold" font-size="5.5" fill="#e0e4ee" letter-spacing="1.2">高清视频管理平台</text>
<text x="387" y="453" font-family="Liberation Sans" font-size="3.2" fill="#c8d0e0" opacity="0.85">HD Video Management Platform</text>
<rect x="43" y="549" width="126" height="32" fill="#707074"/>
<polygon points="60,518 150,518 169,529.5 43,529.5" fill="url(#nvrl)"/>
<rect x="43" y="529.5" width="126" height="21.5" fill="url(#nvrf)"/>
<rect x="43" y="529.5" width="126" height="1" fill="#6a6a70"/>
<rect x="55" y="532.5" width="46" height="1.6" fill="#111"/>
<rect x="104.0" y="534.5" width="3" height="2" fill="#aaa" opacity="0.35"/>
<rect x="109.5" y="534.5" width="3" height="2" fill="#aaa" opacity="0.35"/>
<rect x="115.0" y="534.5" width="3" height="2" fill="#aaa" opacity="0.35"/>
<rect x="120.5" y="534.5" width="3" height="2" fill="#aaa" opacity="0.35"/>
<rect x="126.0" y="534.5" width="3" height="2" fill="#aaa" opacity="0.35"/>
<rect x="104.0" y="539.0" width="3" height="2" fill="#aaa" opacity="0.35"/>
<rect x="109.5" y="539.0" width="3" height="2" fill="#aaa" opacity="0.35"/>
<rect x="115.0" y="539.0" width="3" height="2" fill="#aaa" opacity="0.35"/>
<rect x="120.5" y="539.0" width="3" height="2" fill="#aaa" opacity="0.35"/>
<rect x="126.0" y="539.0" width="3" height="2" fill="#aaa" opacity="0.35"/>
<rect x="104.0" y="543.5" width="3" height="2" fill="#aaa" opacity="0.35"/>
<rect x="109.5" y="543.5" width="3" height="2" fill="#aaa" opacity="0.35"/>
<rect x="115.0" y="543.5" width="3" height="2" fill="#aaa" opacity="0.35"/>
<rect x="120.5" y="543.5" width="3" height="2" fill="#aaa" opacity="0.35"/>
<rect x="126.0" y="543.5" width="3" height="2" fill="#aaa" opacity="0.35"/>
<circle cx="146" cy="541.25" r="9.5" fill="#3e3e42" stroke="#6a6a70" stroke-width="0.8"/>
<circle cx="146" cy="541.25" r="6.5" fill="#262628" stroke="#505055" stroke-width="0.6"/>
<rect x="48.5" y="537.25" width="3" height="2" fill="#ddd"/>
<rect x="48.5" y="542.25" width="3" height="2" fill="#ddd"/>
<polygon points="47,552 165,552 169,555 43,555" fill="#55555a"/>
<rect x="43" y="555" width="126" height="20" fill="url(#nvrf)"/>
<rect x="43" y="555" width="126" height="1" fill="#6a6a70"/>
<rect x="55" y="558" width="46" height="1.6" fill="#111"/>
<rect x="104.0" y="560.0" width="3" height="2" fill="#aaa" opacity="0.35"/>
<rect x="109.5" y="560.0" width="3" height="2" fill="#aaa" opacity="0.35"/>
<rect x="115.0" y="560.0" width="3" height="2" fill="#aaa" opacity="0.35"/>
<rect x="120.5" y="560.0" width="3" height="2" fill="#aaa" opacity="0.35"/>
<rect x="126.0" y="560.0" width="3" height="2" fill="#aaa" opacity="0.35"/>
<rect x="104.0" y="564.5" width="3" height="2" fill="#aaa" opacity="0.35"/>
<rect x="109.5" y="564.5" width="3" height="2" fill="#aaa" opacity="0.35"/>
<rect x="115.0" y="564.5" width="3" height="2" fill="#aaa" opacity="0.35"/>
<rect x="120.5" y="564.5" width="3" height="2" fill="#aaa" opacity="0.35"/>
<rect x="126.0" y="564.5" width="3" height="2" fill="#aaa" opacity="0.35"/>
<rect x="104.0" y="569.0" width="3" height="2" fill="#aaa" opacity="0.35"/>
<rect x="109.5" y="569.0" width="3" height="2" fill="#aaa" opacity="0.35"/>
<rect x="115.0" y="569.0" width="3" height="2" fill="#aaa" opacity="0.35"/>
<rect x="120.5" y="569.0" width="3" height="2" fill="#aaa" opacity="0.35"/>
<rect x="126.0" y="569.0" width="3" height="2" fill="#aaa" opacity="0.35"/>
<circle cx="146" cy="566.0" r="9.5" fill="#3e3e42" stroke="#6a6a70" stroke-width="0.8"/>
<circle cx="146" cy="566.0" r="6.5" fill="#262628" stroke="#505055" stroke-width="0.6"/>
<rect x="48.5" y="562.0" width="3" height="2" fill="#ddd"/>
<rect x="48.5" y="567.0" width="3" height="2" fill="#ddd"/>
<polygon points="47,576 165,576 169,579 43,579" fill="#55555a"/>
<rect x="43" y="579" width="126" height="21" fill="url(#nvrf)"/>
<rect x="43" y="579" width="126" height="1" fill="#6a6a70"/>
<rect x="55" y="582" width="46" height="1.6" fill="#111"/>
<rect x="104.0" y="584.0" width="3" height="2" fill="#aaa" opacity="0.35"/>
<rect x="109.5" y="584.0" width="3" height="2" fill="#aaa" opacity="0.35"/>
<rect x="115.0" y="584.0" width="3" height="2" fill="#aaa" opacity="0.35"/>
<rect x="120.5" y="584.0" width="3" height="2" fill="#aaa" opacity="0.35"/>
<rect x="126.0" y="584.0" width="3" height="2" fill="#aaa" opacity="0.35"/>
<rect x="104.0" y="588.5" width="3" height="2" fill="#aaa" opacity="0.35"/>
<rect x="109.5" y="588.5" width="3" height="2" fill="#aaa" opacity="0.35"/>
<rect x="115.0" y="588.5" width="3" height="2" fill="#aaa" opacity="0.35"/>
<rect x="120.5" y="588.5" width="3" height="2" fill="#aaa" opacity="0.35"/>
<rect x="126.0" y="588.5" width="3" height="2" fill="#aaa" opacity="0.35"/>
<rect x="104.0" y="593.0" width="3" height="2" fill="#aaa" opacity="0.35"/>
<rect x="109.5" y="593.0" width="3" height="2" fill="#aaa" opacity="0.35"/>
<rect x="115.0" y="593.0" width="3" height="2" fill="#aaa" opacity="0.35"/>
<rect x="120.5" y="593.0" width="3" height="2" fill="#aaa" opacity="0.35"/>
<rect x="126.0" y="593.0" width="3" height="2" fill="#aaa" opacity="0.35"/>
<circle cx="146" cy="590.5" r="9.5" fill="#3e3e42" stroke="#6a6a70" stroke-width="0.8"/>
<circle cx="146" cy="590.5" r="6.5" fill="#262628" stroke="#505055" stroke-width="0.6"/>
<rect x="48.5" y="586.5" width="3" height="2" fill="#ddd"/>
<rect x="48.5" y="591.5" width="3" height="2" fill="#ddd"/>
<polygon points="635,578 648,578 648,592 637,592" fill="#c4c4c6"/>
<rect x="648" y="519" width="28" height="73" rx="1.5" fill="#a9a9ad"/>
<rect x="648" y="519" width="28" height="7" rx="1.5" fill="#d4d4d6"/>
<rect x="648" y="585" width="28" height="7" rx="1.5" fill="#d8d8da"/>
<rect x="650.5" y="530" width="23" height="2.5" fill="#f0f0f2"/>
<rect x="650.5" y="537" width="23" height="2.5" fill="#f0f0f2"/>
<rect x="652" y="542" width="21" height="42" fill="#9a9a9e"/>
<rect x="648" y="526" width="3" height="59" fill="#c8c8ca"/>
<rect x="651" y="561" width="2.5" height="12" fill="#d0d0d2"/>
<rect x="555.5" y="522.5" width="92.5" height="52.5" fill="#241e28"/>
<rect x="555.5" y="522.5" width="92.5" height="3" fill="#342c3c"/>
<rect x="557" y="527" width="89.5" height="46.5" fill="#0e080b"/>
<rect x="557" y="528" width="89.5" height="1.2" fill="#4a4a52"/>
<rect x="558" y="530" width="7" height="43" fill="#1c161a"/>
<rect x="596.5" y="575" width="9" height="15" fill="#2a2a2c"/>
<rect x="573" y="589.5" width="58" height="3.5" fill="#9a9a9c"/>
<polygon points="264,661.5 456,661.5 470,667 250,667" fill="#55555a"/>
<rect x="245" y="666.5" width="229" height="27" fill="#262629"/>
<rect x="235" y="666.5" width="11" height="27" fill="#1e1e22"/>
<rect x="473.5" y="666.5" width="13" height="27" fill="#1e1e22"/>
<circle cx="240.5" cy="670.5" r="2.2" fill="#f2f2f2"/>
<circle cx="240.5" cy="689.5" r="2.2" fill="#f2f2f2"/>
<circle cx="481" cy="670" r="2.2" fill="#f2f2f2"/>
<circle cx="481" cy="690" r="2.2" fill="#f2f2f2"/>
<rect x="250" y="672" width="13.5" height="18" fill="#1a1a1c"/>
<rect x="252" y="674" width="9" height="5" fill="#4a4a4e"/>
<rect x="252" y="682" width="9" height="5" fill="#4a4a4e"/>
<rect x="267.5" y="672.5" width="6.2" height="7.8" fill="#808084"/>
<rect x="268.4" y="673.9" width="4.4" height="4.8" fill="#303034"/>
<rect x="269.6" y="678.7" width="2" height="0.9" fill="#303034"/>
<rect x="274.3" y="672.5" width="6.2" height="7.8" fill="#808084"/>
<rect x="275.2" y="673.9" width="4.4" height="4.8" fill="#303034"/>
<rect x="276.4" y="678.7" width="2" height="0.9" fill="#303034"/>
<rect x="281.1" y="672.5" width="6.2" height="7.8" fill="#808084"/>
<rect x="282.0" y="673.9" width="4.4" height="4.8" fill="#303034"/>
<rect x="283.2" y="678.7" width="2" height="0.9" fill="#303034"/>
<rect x="287.9" y="672.5" width="6.2" height="7.8" fill="#808084"/>
<rect x="288.8" y="673.9" width="4.4" height="4.8" fill="#303034"/>
<rect x="290.0" y="678.7" width="2" height="0.9" fill="#303034"/>
<rect x="294.7" y="672.5" width="6.2" height="7.8" fill="#808084"/>
<rect x="295.6" y="673.9" width="4.4" height="4.8" fill="#303034"/>
<rect x="296.8" y="678.7" width="2" height="0.9" fill="#303034"/>
<rect x="301.5" y="672.5" width="6.2" height="7.8" fill="#808084"/>
<rect x="302.4" y="673.9" width="4.4" height="4.8" fill="#303034"/>
<rect x="303.6" y="678.7" width="2" height="0.9" fill="#303034"/>
<rect x="310.0" y="672.5" width="6.2" height="7.8" fill="#808084"/>
<rect x="310.9" y="673.9" width="4.4" height="4.8" fill="#303034"/>
<rect x="312.1" y="678.7" width="2" height="0.9" fill="#303034"/>
<rect x="316.8" y="672.5" width="6.2" height="7.8" fill="#808084"/>
<rect x="317.7" y="673.9" width="4.4" height="4.8" fill="#303034"/>
<rect x="318.9" y="678.7" width="2" height="0.9" fill="#303034"/>
<rect x="323.6" y="672.5" width="6.2" height="7.8" fill="#808084"/>
<rect x="324.5" y="673.9" width="4.4" height="4.8" fill="#303034"/>
<rect x="325.7" y="678.7" width="2" height="0.9" fill="#303034"/>
<rect x="330.4" y="672.5" width="6.2" height="7.8" fill="#808084"/>
<rect x="331.3" y="673.9" width="4.4" height="4.8" fill="#303034"/>
<rect x="332.5" y="678.7" width="2" height="0.9" fill="#303034"/>
<rect x="337.2" y="672.5" width="6.2" height="7.8" fill="#808084"/>
<rect x="338.1" y="673.9" width="4.4" height="4.8" fill="#303034"/>
<rect x="339.3" y="678.7" width="2" height="0.9" fill="#303034"/>
<rect x="344.0" y="672.5" width="6.2" height="7.8" fill="#808084"/>
<rect x="344.9" y="673.9" width="4.4" height="4.8" fill="#303034"/>
<rect x="346.1" y="678.7" width="2" height="0.9" fill="#303034"/>
<rect x="352.5" y="672.5" width="6.2" height="7.8" fill="#808084"/>
<rect x="353.4" y="673.9" width="4.4" height="4.8" fill="#303034"/>
<rect x="354.6" y="678.7" width="2" height="0.9" fill="#303034"/>
<rect x="359.3" y="672.5" width="6.2" height="7.8" fill="#808084"/>
<rect x="360.2" y="673.9" width="4.4" height="4.8" fill="#303034"/>
<rect x="361.4" y="678.7" width="2" height="0.9" fill="#303034"/>
<rect x="366.1" y="672.5" width="6.2" height="7.8" fill="#808084"/>
<rect x="367.0" y="673.9" width="4.4" height="4.8" fill="#303034"/>
<rect x="368.2" y="678.7" width="2" height="0.9" fill="#303034"/>
<rect x="372.9" y="672.5" width="6.2" height="7.8" fill="#808084"/>
<rect x="373.8" y="673.9" width="4.4" height="4.8" fill="#303034"/>
<rect x="375.0" y="678.7" width="2" height="0.9" fill="#303034"/>
<rect x="379.7" y="672.5" width="6.2" height="7.8" fill="#808084"/>
<rect x="380.6" y="673.9" width="4.4" height="4.8" fill="#303034"/>
<rect x="381.8" y="678.7" width="2" height="0.9" fill="#303034"/>
<rect x="386.5" y="672.5" width="6.2" height="7.8" fill="#808084"/>
<rect x="387.4" y="673.9" width="4.4" height="4.8" fill="#303034"/>
<rect x="388.6" y="678.7" width="2" height="0.9" fill="#303034"/>
<rect x="395.0" y="672.5" width="6.2" height="7.8" fill="#808084"/>
<rect x="395.9" y="673.9" width="4.4" height="4.8" fill="#303034"/>
<rect x="397.1" y="678.7" width="2" height="0.9" fill="#303034"/>
<rect x="401.8" y="672.5" width="6.2" height="7.8" fill="#808084"/>
<rect x="402.7" y="673.9" width="4.4" height="4.8" fill="#303034"/>
<rect x="403.9" y="678.7" width="2" height="0.9" fill="#303034"/>
<rect x="408.6" y="672.5" width="6.2" height="7.8" fill="#808084"/>
<rect x="409.5" y="673.9" width="4.4" height="4.8" fill="#303034"/>
<rect x="410.7" y="678.7" width="2" height="0.9" fill="#303034"/>
<rect x="415.4" y="672.5" width="6.2" height="7.8" fill="#808084"/>
<rect x="416.3" y="673.9" width="4.4" height="4.8" fill="#303034"/>
<rect x="417.5" y="678.7" width="2" height="0.9" fill="#303034"/>
<rect x="422.2" y="672.5" width="6.2" height="7.8" fill="#808084"/>
<rect x="423.1" y="673.9" width="4.4" height="4.8" fill="#303034"/>
<rect x="424.3" y="678.7" width="2" height="0.9" fill="#303034"/>
<rect x="429.0" y="672.5" width="6.2" height="7.8" fill="#808084"/>
<rect x="429.9" y="673.9" width="4.4" height="4.8" fill="#303034"/>
<rect x="431.1" y="678.7" width="2" height="0.9" fill="#303034"/>
<rect x="267.5" y="681" width="6.2" height="7.8" fill="#808084"/>
<rect x="268.4" y="682.6" width="4.4" height="4.8" fill="#303034"/>
<rect x="269.6" y="681.8" width="2" height="0.9" fill="#303034"/>
<rect x="274.3" y="681" width="6.2" height="7.8" fill="#808084"/>
<rect x="275.2" y="682.6" width="4.4" height="4.8" fill="#303034"/>
<rect x="276.4" y="681.8" width="2" height="0.9" fill="#303034"/>
<rect x="281.1" y="681" width="6.2" height="7.8" fill="#808084"/>
<rect x="282.0" y="682.6" width="4.4" height="4.8" fill="#303034"/>
<rect x="283.2" y="681.8" width="2" height="0.9" fill="#303034"/>
<rect x="287.9" y="681" width="6.2" height="7.8" fill="#808084"/>
<rect x="288.8" y="682.6" width="4.4" height="4.8" fill="#303034"/>
<rect x="290.0" y="681.8" width="2" height="0.9" fill="#303034"/>
<rect x="294.7" y="681" width="6.2" height="7.8" fill="#808084"/>
<rect x="295.6" y="682.6" width="4.4" height="4.8" fill="#303034"/>
<rect x="296.8" y="681.8" width="2" height="0.9" fill="#303034"/>
<rect x="301.5" y="681" width="6.2" height="7.8" fill="#808084"/>
<rect x="302.4" y="682.6" width="4.4" height="4.8" fill="#303034"/>
<rect x="303.6" y="681.8" width="2" height="0.9" fill="#303034"/>
<rect x="310.0" y="681" width="6.2" height="7.8" fill="#808084"/>
<rect x="310.9" y="682.6" width="4.4" height="4.8" fill="#303034"/>
<rect x="312.1" y="681.8" width="2" height="0.9" fill="#303034"/>
<rect x="316.8" y="681" width="6.2" height="7.8" fill="#808084"/>
<rect x="317.7" y="682.6" width="4.4" height="4.8" fill="#303034"/>
<rect x="318.9" y="681.8" width="2" height="0.9" fill="#303034"/>
<rect x="323.6" y="681" width="6.2" height="7.8" fill="#808084"/>
<rect x="324.5" y="682.6" width="4.4" height="4.8" fill="#303034"/>
<rect x="325.7" y="681.8" width="2" height="0.9" fill="#303034"/>
<rect x="330.4" y="681" width="6.2" height="7.8" fill="#808084"/>
<rect x="331.3" y="682.6" width="4.4" height="4.8" fill="#303034"/>
<rect x="332.5" y="681.8" width="2" height="0.9" fill="#303034"/>
<rect x="337.2" y="681" width="6.2" height="7.8" fill="#808084"/>
<rect x="338.1" y="682.6" width="4.4" height="4.8" fill="#303034"/>
<rect x="339.3" y="681.8" width="2" height="0.9" fill="#303034"/>
<rect x="344.0" y="681" width="6.2" height="7.8" fill="#808084"/>
<rect x="344.9" y="682.6" width="4.4" height="4.8" fill="#303034"/>
<rect x="346.1" y="681.8" width="2" height="0.9" fill="#303034"/>
<rect x="352.5" y="681" width="6.2" height="7.8" fill="#808084"/>
<rect x="353.4" y="682.6" width="4.4" height="4.8" fill="#303034"/>
<rect x="354.6" y="681.8" width="2" height="0.9" fill="#303034"/>
<rect x="359.3" y="681" width="6.2" height="7.8" fill="#808084"/>
<rect x="360.2" y="682.6" width="4.4" height="4.8" fill="#303034"/>
<rect x="361.4" y="681.8" width="2" height="0.9" fill="#303034"/>
<rect x="366.1" y="681" width="6.2" height="7.8" fill="#808084"/>
<rect x="367.0" y="682.6" width="4.4" height="4.8" fill="#303034"/>
<rect x="368.2" y="681.8" width="2" height="0.9" fill="#303034"/>
<rect x="372.9" y="681" width="6.2" height="7.8" fill="#808084"/>
<rect x="373.8" y="682.6" width="4.4" height="4.8" fill="#303034"/>
<rect x="375.0" y="681.8" width="2" height="0.9" fill="#303034"/>
<rect x="379.7" y="681" width="6.2" height="7.8" fill="#808084"/>
<rect x="380.6" y="682.6" width="4.4" height="4.8" fill="#303034"/>
<rect x="381.8" y="681.8" width="2" height="0.9" fill="#303034"/>
<rect x="386.5" y="681" width="6.2" height="7.8" fill="#808084"/>
<rect x="387.4" y="682.6" width="4.4" height="4.8" fill="#303034"/>
<rect x="388.6" y="681.8" width="2" height="0.9" fill="#303034"/>
<rect x="395.0" y="681" width="6.2" height="7.8" fill="#808084"/>
<rect x="395.9" y="682.6" width="4.4" height="4.8" fill="#303034"/>
<rect x="397.1" y="681.8" width="2" height="0.9" fill="#303034"/>
<rect x="401.8" y="681" width="6.2" height="7.8" fill="#808084"/>
<rect x="402.7" y="682.6" width="4.4" height="4.8" fill="#303034"/>
<rect x="403.9" y="681.8" width="2" height="0.9" fill="#303034"/>
<rect x="408.6" y="681" width="6.2" height="7.8" fill="#808084"/>
<rect x="409.5" y="682.6" width="4.4" height="4.8" fill="#303034"/>
<rect x="410.7" y="681.8" width="2" height="0.9" fill="#303034"/>
<rect x="415.4" y="681" width="6.2" height="7.8" fill="#808084"/>
<rect x="416.3" y="682.6" width="4.4" height="4.8" fill="#303034"/>
<rect x="417.5" y="681.8" width="2" height="0.9" fill="#303034"/>
<rect x="422.2" y="681" width="6.2" height="7.8" fill="#808084"/>
<rect x="423.1" y="682.6" width="4.4" height="4.8" fill="#303034"/>
<rect x="424.3" y="681.8" width="2" height="0.9" fill="#303034"/>
<rect x="429.0" y="681" width="6.2" height="7.8" fill="#808084"/>
<rect x="429.9" y="682.6" width="4.4" height="4.8" fill="#303034"/>
<rect x="431.1" y="681.8" width="2" height="0.9" fill="#303034"/>
<rect x="443.0" y="673" width="8" height="6" fill="#3c3c40"/>
<rect x="444.0" y="674.5" width="6" height="3" fill="#101012"/>
<rect x="452.5" y="673" width="8" height="6" fill="#3c3c40"/>
<rect x="453.5" y="674.5" width="6" height="3" fill="#101012"/>
<rect x="443.0" y="682" width="8" height="6" fill="#3c3c40"/>
<rect x="444.0" y="683.5" width="6" height="3" fill="#101012"/>
<rect x="452.5" y="682" width="8" height="6" fill="#3c3c40"/>
<rect x="453.5" y="683.5" width="6" height="3" fill="#101012"/>
<rect x="461" y="681" width="10" height="8.5" fill="#d8d8d8"/>
<rect x="462.5" y="683" width="7" height="5" fill="#202022"/>
<polygon points="41.5,781 169.5,781 175.5,784.5 35.5,784.5" fill="#707076"/>
<rect x="34.0" y="784.5" width="143" height="16" fill="#262224"/>
<rect x="29.5" y="784.5" width="5" height="16" fill="#1c1c20"/>
<rect x="176.5" y="784.5" width="5" height="16" fill="#1c1c20"/>
<circle cx="32.0" cy="787.5" r="1.4" fill="#eee"/>
<circle cx="32.0" cy="797.5" r="1.4" fill="#eee"/>
<circle cx="179.0" cy="787.5" r="1.4" fill="#eee"/>
<circle cx="179.0" cy="797.5" r="1.4" fill="#eee"/>
<rect x="38.5" y="787" width="7" height="11" fill="#0e0e10"/>
<rect x="49.5" y="787" width="3.4" height="4.6" fill="#4e4a4e"/>
<rect x="50.2" y="788" width="2" height="2.8" fill="#161214"/>
<rect x="53.2" y="787" width="3.4" height="4.6" fill="#4e4a4e"/>
<rect x="53.9" y="788" width="2" height="2.8" fill="#161214"/>
<rect x="56.9" y="787" width="3.4" height="4.6" fill="#4e4a4e"/>
<rect x="57.6" y="788" width="2" height="2.8" fill="#161214"/>
<rect x="60.6" y="787" width="3.4" height="4.6" fill="#4e4a4e"/>
<rect x="61.3" y="788" width="2" height="2.8" fill="#161214"/>
<rect x="64.3" y="787" width="3.4" height="4.6" fill="#4e4a4e"/>
<rect x="65.0" y="788" width="2" height="2.8" fill="#161214"/>
<rect x="68.0" y="787" width="3.4" height="4.6" fill="#4e4a4e"/>
<rect x="68.7" y="788" width="2" height="2.8" fill="#161214"/>
<rect x="71.7" y="787" width="3.4" height="4.6" fill="#4e4a4e"/>
<rect x="72.4" y="788" width="2" height="2.8" fill="#161214"/>
<rect x="75.4" y="787" width="3.4" height="4.6" fill="#4e4a4e"/>
<rect x="76.1" y="788" width="2" height="2.8" fill="#161214"/>
<rect x="79.1" y="787" width="3.4" height="4.6" fill="#4e4a4e"/>
<rect x="79.8" y="788" width="2" height="2.8" fill="#161214"/>
<rect x="82.8" y="787" width="3.4" height="4.6" fill="#4e4a4e"/>
<rect x="83.5" y="788" width="2" height="2.8" fill="#161214"/>
<rect x="86.5" y="787" width="3.4" height="4.6" fill="#4e4a4e"/>
<rect x="87.2" y="788" width="2" height="2.8" fill="#161214"/>
<rect x="90.2" y="787" width="3.4" height="4.6" fill="#4e4a4e"/>
<rect x="90.9" y="788" width="2" height="2.8" fill="#161214"/>
<rect x="93.9" y="787" width="3.4" height="4.6" fill="#4e4a4e"/>
<rect x="94.6" y="788" width="2" height="2.8" fill="#161214"/>
<rect x="97.6" y="787" width="3.4" height="4.6" fill="#4e4a4e"/>
<rect x="98.3" y="788" width="2" height="2.8" fill="#161214"/>
<rect x="101.3" y="787" width="3.4" height="4.6" fill="#4e4a4e"/>
<rect x="102.0" y="788" width="2" height="2.8" fill="#161214"/>
<rect x="105.0" y="787" width="3.4" height="4.6" fill="#4e4a4e"/>
<rect x="105.7" y="788" width="2" height="2.8" fill="#161214"/>
<rect x="108.7" y="787" width="3.4" height="4.6" fill="#4e4a4e"/>
<rect x="109.4" y="788" width="2" height="2.8" fill="#161214"/>
<rect x="112.4" y="787" width="3.4" height="4.6" fill="#4e4a4e"/>
<rect x="113.1" y="788" width="2" height="2.8" fill="#161214"/>
<rect x="116.1" y="787" width="3.4" height="4.6" fill="#4e4a4e"/>
<rect x="116.8" y="788" width="2" height="2.8" fill="#161214"/>
<rect x="119.8" y="787" width="3.4" height="4.6" fill="#4e4a4e"/>
<rect x="120.5" y="788" width="2" height="2.8" fill="#161214"/>
<rect x="123.5" y="787" width="3.4" height="4.6" fill="#4e4a4e"/>
<rect x="124.2" y="788" width="2" height="2.8" fill="#161214"/>
<rect x="127.2" y="787" width="3.4" height="4.6" fill="#4e4a4e"/>
<rect x="127.9" y="788" width="2" height="2.8" fill="#161214"/>
<rect x="130.9" y="787" width="3.4" height="4.6" fill="#4e4a4e"/>
<rect x="131.6" y="788" width="2" height="2.8" fill="#161214"/>
<rect x="134.6" y="787" width="3.4" height="4.6" fill="#4e4a4e"/>
<rect x="135.3" y="788" width="2" height="2.8" fill="#161214"/>
<rect x="138.3" y="787" width="3.4" height="4.6" fill="#4e4a4e"/>
<rect x="139.0" y="788" width="2" height="2.8" fill="#161214"/>
<rect x="142.0" y="787" width="3.4" height="4.6" fill="#4e4a4e"/>
<rect x="142.7" y="788" width="2" height="2.8" fill="#161214"/>
<rect x="145.7" y="787" width="3.4" height="4.6" fill="#4e4a4e"/>
<rect x="146.4" y="788" width="2" height="2.8" fill="#161214"/>
<rect x="149.4" y="787" width="3.4" height="4.6" fill="#4e4a4e"/>
<rect x="150.1" y="788" width="2" height="2.8" fill="#161214"/>
<rect x="49.5" y="793" width="3.4" height="4.6" fill="#4e4a4e"/>
<rect x="50.2" y="794" width="2" height="2.8" fill="#161214"/>
<rect x="53.2" y="793" width="3.4" height="4.6" fill="#4e4a4e"/>
<rect x="53.9" y="794" width="2" height="2.8" fill="#161214"/>
<rect x="56.9" y="793" width="3.4" height="4.6" fill="#4e4a4e"/>
<rect x="57.6" y="794" width="2" height="2.8" fill="#161214"/>
<rect x="60.6" y="793" width="3.4" height="4.6" fill="#4e4a4e"/>
<rect x="61.3" y="794" width="2" height="2.8" fill="#161214"/>
<rect x="64.3" y="793" width="3.4" height="4.6" fill="#4e4a4e"/>
<rect x="65.0" y="794" width="2" height="2.8" fill="#161214"/>
<rect x="68.0" y="793" width="3.4" height="4.6" fill="#4e4a4e"/>
<rect x="68.7" y="794" width="2" height="2.8" fill="#161214"/>
<rect x="71.7" y="793" width="3.4" height="4.6" fill="#4e4a4e"/>
<rect x="72.4" y="794" width="2" height="2.8" fill="#161214"/>
<rect x="75.4" y="793" width="3.4" height="4.6" fill="#4e4a4e"/>
<rect x="76.1" y="794" width="2" height="2.8" fill="#161214"/>
<rect x="79.1" y="793" width="3.4" height="4.6" fill="#4e4a4e"/>
<rect x="79.8" y="794" width="2" height="2.8" fill="#161214"/>
<rect x="82.8" y="793" width="3.4" height="4.6" fill="#4e4a4e"/>
<rect x="83.5" y="794" width="2" height="2.8" fill="#161214"/>
<rect x="86.5" y="793" width="3.4" height="4.6" fill="#4e4a4e"/>
<rect x="87.2" y="794" width="2" height="2.8" fill="#161214"/>
<rect x="90.2" y="793" width="3.4" height="4.6" fill="#4e4a4e"/>
<rect x="90.9" y="794" width="2" height="2.8" fill="#161214"/>
<rect x="93.9" y="793" width="3.4" height="4.6" fill="#4e4a4e"/>
<rect x="94.6" y="794" width="2" height="2.8" fill="#161214"/>
<rect x="97.6" y="793" width="3.4" height="4.6" fill="#4e4a4e"/>
<rect x="98.3" y="794" width="2" height="2.8" fill="#161214"/>
<rect x="101.3" y="793" width="3.4" height="4.6" fill="#4e4a4e"/>
<rect x="102.0" y="794" width="2" height="2.8" fill="#161214"/>
<rect x="105.0" y="793" width="3.4" height="4.6" fill="#4e4a4e"/>
<rect x="105.7" y="794" width="2" height="2.8" fill="#161214"/>
<rect x="108.7" y="793" width="3.4" height="4.6" fill="#4e4a4e"/>
<rect x="109.4" y="794" width="2" height="2.8" fill="#161214"/>
<rect x="112.4" y="793" width="3.4" height="4.6" fill="#4e4a4e"/>
<rect x="113.1" y="794" width="2" height="2.8" fill="#161214"/>
<rect x="116.1" y="793" width="3.4" height="4.6" fill="#4e4a4e"/>
<rect x="116.8" y="794" width="2" height="2.8" fill="#161214"/>
<rect x="119.8" y="793" width="3.4" height="4.6" fill="#4e4a4e"/>
<rect x="120.5" y="794" width="2" height="2.8" fill="#161214"/>
<rect x="123.5" y="793" width="3.4" height="4.6" fill="#4e4a4e"/>
<rect x="124.2" y="794" width="2" height="2.8" fill="#161214"/>
<rect x="127.2" y="793" width="3.4" height="4.6" fill="#4e4a4e"/>
<rect x="127.9" y="794" width="2" height="2.8" fill="#161214"/>
<rect x="130.9" y="793" width="3.4" height="4.6" fill="#4e4a4e"/>
<rect x="131.6" y="794" width="2" height="2.8" fill="#161214"/>
<rect x="134.6" y="793" width="3.4" height="4.6" fill="#4e4a4e"/>
<rect x="135.3" y="794" width="2" height="2.8" fill="#161214"/>
<rect x="138.3" y="793" width="3.4" height="4.6" fill="#4e4a4e"/>
<rect x="139.0" y="794" width="2" height="2.8" fill="#161214"/>
<rect x="142.0" y="793" width="3.4" height="4.6" fill="#4e4a4e"/>
<rect x="142.7" y="794" width="2" height="2.8" fill="#161214"/>
<rect x="145.7" y="793" width="3.4" height="4.6" fill="#4e4a4e"/>
<rect x="146.4" y="794" width="2" height="2.8" fill="#161214"/>
<rect x="149.4" y="793" width="3.4" height="4.6" fill="#4e4a4e"/>
<rect x="150.1" y="794" width="2" height="2.8" fill="#161214"/>
<rect x="155.5" y="787" width="4" height="4.5" fill="#3a3a3e"/>
<rect x="160.5" y="787" width="4" height="4.5" fill="#3a3a3e"/>
<rect x="155.5" y="793" width="4" height="4.5" fill="#3a3a3e"/>
<rect x="160.5" y="793" width="4" height="4.5" fill="#3a3a3e"/>
<rect x="166.5" y="792.5" width="6" height="5" fill="#d0d0d0"/>
<rect x="167.5" y="793.5" width="4" height="3" fill="#222"/>
<polygon points="296.5,781 424.5,781 430.5,784.5 290.5,784.5" fill="#707076"/>
<rect x="289.0" y="784.5" width="143" height="16" fill="#262224"/>
<rect x="284.5" y="784.5" width="5" height="16" fill="#1c1c20"/>
<rect x="431.5" y="784.5" width="5" height="16" fill="#1c1c20"/>
<circle cx="287.0" cy="787.5" r="1.4" fill="#eee"/>
<circle cx="287.0" cy="797.5" r="1.4" fill="#eee"/>
<circle cx="434.0" cy="787.5" r="1.4" fill="#eee"/>
<circle cx="434.0" cy="797.5" r="1.4" fill="#eee"/>
<rect x="293.5" y="787" width="7" height="11" fill="#0e0e10"/>
<rect x="304.5" y="787" width="3.4" height="4.6" fill="#4e4a4e"/>
<rect x="305.2" y="788" width="2" height="2.8" fill="#161214"/>
<rect x="308.2" y="787" width="3.4" height="4.6" fill="#4e4a4e"/>
<rect x="308.9" y="788" width="2" height="2.8" fill="#161214"/>
<rect x="311.9" y="787" width="3.4" height="4.6" fill="#4e4a4e"/>
<rect x="312.6" y="788" width="2" height="2.8" fill="#161214"/>
<rect x="315.6" y="787" width="3.4" height="4.6" fill="#4e4a4e"/>
<rect x="316.3" y="788" width="2" height="2.8" fill="#161214"/>
<rect x="319.3" y="787" width="3.4" height="4.6" fill="#4e4a4e"/>
<rect x="320.0" y="788" width="2" height="2.8" fill="#161214"/>
<rect x="323.0" y="787" width="3.4" height="4.6" fill="#4e4a4e"/>
<rect x="323.7" y="788" width="2" height="2.8" fill="#161214"/>
<rect x="326.7" y="787" width="3.4" height="4.6" fill="#4e4a4e"/>
<rect x="327.4" y="788" width="2" height="2.8" fill="#161214"/>
<rect x="330.4" y="787" width="3.4" height="4.6" fill="#4e4a4e"/>
<rect x="331.1" y="788" width="2" height="2.8" fill="#161214"/>
<rect x="334.1" y="787" width="3.4" height="4.6" fill="#4e4a4e"/>
<rect x="334.8" y="788" width="2" height="2.8" fill="#161214"/>
<rect x="337.8" y="787" width="3.4" height="4.6" fill="#4e4a4e"/>
<rect x="338.5" y="788" width="2" height="2.8" fill="#161214"/>
<rect x="341.5" y="787" width="3.4" height="4.6" fill="#4e4a4e"/>
<rect x="342.2" y="788" width="2" height="2.8" fill="#161214"/>
<rect x="345.2" y="787" width="3.4" height="4.6" fill="#4e4a4e"/>
<rect x="345.9" y="788" width="2" height="2.8" fill="#161214"/>
<rect x="348.9" y="787" width="3.4" height="4.6" fill="#4e4a4e"/>
<rect x="349.6" y="788" width="2" height="2.8" fill="#161214"/>
<rect x="352.6" y="787" width="3.4" height="4.6" fill="#4e4a4e"/>
<rect x="353.3" y="788" width="2" height="2.8" fill="#161214"/>
<rect x="356.3" y="787" width="3.4" height="4.6" fill="#4e4a4e"/>
<rect x="357.0" y="788" width="2" height="2.8" fill="#161214"/>
<rect x="360.0" y="787" width="3.4" height="4.6" fill="#4e4a4e"/>
<rect x="360.7" y="788" width="2" height="2.8" fill="#161214"/>
<rect x="363.7" y="787" width="3.4" height="4.6" fill="#4e4a4e"/>
<rect x="364.4" y="788" width="2" height="2.8" fill="#161214"/>
<rect x="367.4" y="787" width="3.4" height="4.6" fill="#4e4a4e"/>
<rect x="368.1" y="788" width="2" height="2.8" fill="#161214"/>
<rect x="371.1" y="787" width="3.4" height="4.6" fill="#4e4a4e"/>
<rect x="371.8" y="788" width="2" height="2.8" fill="#161214"/>
<rect x="374.8" y="787" width="3.4" height="4.6" fill="#4e4a4e"/>
<rect x="375.5" y="788" width="2" height="2.8" fill="#161214"/>
<rect x="378.5" y="787" width="3.4" height="4.6" fill="#4e4a4e"/>
<rect x="379.2" y="788" width="2" height="2.8" fill="#161214"/>
<rect x="382.2" y="787" width="3.4" height="4.6" fill="#4e4a4e"/>
<rect x="382.9" y="788" width="2" height="2.8" fill="#161214"/>
<rect x="385.9" y="787" width="3.4" height="4.6" fill="#4e4a4e"/>
<rect x="386.6" y="788" width="2" height="2.8" fill="#161214"/>
<rect x="389.6" y="787" width="3.4" height="4.6" fill="#4e4a4e"/>
<rect x="390.3" y="788" width="2" height="2.8" fill="#161214"/>
<rect x="393.3" y="787" width="3.4" height="4.6" fill="#4e4a4e"/>
<rect x="394.0" y="788" width="2" height="2.8" fill="#161214"/>
<rect x="397.0" y="787" width="3.4" height="4.6" fill="#4e4a4e"/>
<rect x="397.7" y="788" width="2" height="2.8" fill="#161214"/>
<rect x="400.7" y="787" width="3.4" height="4.6" fill="#4e4a4e"/>
<rect x="401.4" y="788" width="2" height="2.8" fill="#161214"/>
<rect x="404.4" y="787" width="3.4" height="4.6" fill="#4e4a4e"/>
<rect x="405.1" y="788" width="2" height="2.8" fill="#161214"/>
<rect x="304.5" y="793" width="3.4" height="4.6" fill="#4e4a4e"/>
<rect x="305.2" y="794" width="2" height="2.8" fill="#161214"/>
<rect x="308.2" y="793" width="3.4" height="4.6" fill="#4e4a4e"/>
<rect x="308.9" y="794" width="2" height="2.8" fill="#161214"/>
<rect x="311.9" y="793" width="3.4" height="4.6" fill="#4e4a4e"/>
<rect x="312.6" y="794" width="2" height="2.8" fill="#161214"/>
<rect x="315.6" y="793" width="3.4" height="4.6" fill="#4e4a4e"/>
<rect x="316.3" y="794" width="2" height="2.8" fill="#161214"/>
<rect x="319.3" y="793" width="3.4" height="4.6" fill="#4e4a4e"/>
<rect x="320.0" y="794" width="2" height="2.8" fill="#161214"/>
<rect x="323.0" y="793" width="3.4" height="4.6" fill="#4e4a4e"/>
<rect x="323.7" y="794" width="2" height="2.8" fill="#161214"/>
<rect x="326.7" y="793" width="3.4" height="4.6" fill="#4e4a4e"/>
<rect x="327.4" y="794" width="2" height="2.8" fill="#161214"/>
<rect x="330.4" y="793" width="3.4" height="4.6" fill="#4e4a4e"/>
<rect x="331.1" y="794" width="2" height="2.8" fill="#161214"/>
<rect x="334.1" y="793" width="3.4" height="4.6" fill="#4e4a4e"/>
<rect x="334.8" y="794" width="2" height="2.8" fill="#161214"/>
<rect x="337.8" y="793" width="3.4" height="4.6" fill="#4e4a4e"/>
<rect x="338.5" y="794" width="2" height="2.8" fill="#161214"/>
<rect x="341.5" y="793" width="3.4" height="4.6" fill="#4e4a4e"/>
<rect x="342.2" y="794" width="2" height="2.8" fill="#161214"/>
<rect x="345.2" y="793" width="3.4" height="4.6" fill="#4e4a4e"/>
<rect x="345.9" y="794" width="2" height="2.8" fill="#161214"/>
<rect x="348.9" y="793" width="3.4" height="4.6" fill="#4e4a4e"/>
<rect x="349.6" y="794" width="2" height="2.8" fill="#161214"/>
<rect x="352.6" y="793" width="3.4" height="4.6" fill="#4e4a4e"/>
<rect x="353.3" y="794" width="2" height="2.8" fill="#161214"/>
<rect x="356.3" y="793" width="3.4" height="4.6" fill="#4e4a4e"/>
<rect x="357.0" y="794" width="2" height="2.8" fill="#161214"/>
<rect x="360.0" y="793" width="3.4" height="4.6" fill="#4e4a4e"/>
<rect x="360.7" y="794" width="2" height="2.8" fill="#161214"/>
<rect x="363.7" y="793" width="3.4" height="4.6" fill="#4e4a4e"/>
<rect x="364.4" y="794" width="2" height="2.8" fill="#161214"/>
<rect x="367.4" y="793" width="3.4" height="4.6" fill="#4e4a4e"/>
<rect x="368.1" y="794" width="2" height="2.8" fill="#161214"/>
<rect x="371.1" y="793" width="3.4" height="4.6" fill="#4e4a4e"/>
<rect x="371.8" y="794" width="2" height="2.8" fill="#161214"/>
<rect x="374.8" y="793" width="3.4" height="4.6" fill="#4e4a4e"/>
<rect x="375.5" y="794" width="2" height="2.8" fill="#161214"/>
<rect x="378.5" y="793" width="3.4" height="4.6" fill="#4e4a4e"/>
<rect x="379.2" y="794" width="2" height="2.8" fill="#161214"/>
<rect x="382.2" y="793" width="3.4" height="4.6" fill="#4e4a4e"/>
<rect x="382.9" y="794" width="2" height="2.8" fill="#161214"/>
<rect x="385.9" y="793" width="3.4" height="4.6" fill="#4e4a4e"/>
<rect x="386.6" y="794" width="2" height="2.8" fill="#161214"/>
<rect x="389.6" y="793" width="3.4" height="4.6" fill="#4e4a4e"/>
<rect x="390.3" y="794" width="2" height="2.8" fill="#161214"/>
<rect x="393.3" y="793" width="3.4" height="4.6" fill="#4e4a4e"/>
<rect x="394.0" y="794" width="2" height="2.8" fill="#161214"/>
<rect x="397.0" y="793" width="3.4" height="4.6" fill="#4e4a4e"/>
<rect x="397.7" y="794" width="2" height="2.8" fill="#161214"/>
<rect x="400.7" y="793" width="3.4" height="4.6" fill="#4e4a4e"/>
<rect x="401.4" y="794" width="2" height="2.8" fill="#161214"/>
<rect x="404.4" y="793" width="3.4" height="4.6" fill="#4e4a4e"/>
<rect x="405.1" y="794" width="2" height="2.8" fill="#161214"/>
<rect x="410.5" y="787" width="4" height="4.5" fill="#3a3a3e"/>
<rect x="415.5" y="787" width="4" height="4.5" fill="#3a3a3e"/>
<rect x="410.5" y="793" width="4" height="4.5" fill="#3a3a3e"/>
<rect x="415.5" y="793" width="4" height="4.5" fill="#3a3a3e"/>
<rect x="421.5" y="792.5" width="6" height="5" fill="#d0d0d0"/>
<rect x="422.5" y="793.5" width="4" height="3" fill="#222"/>
<polygon points="551.5,781 679.5,781 685.5,784.5 545.5,784.5" fill="#707076"/>
<rect x="544.0" y="784.5" width="143" height="16" fill="#262224"/>
<rect x="539.5" y="784.5" width="5" height="16" fill="#1c1c20"/>
<rect x="686.5" y="784.5" width="5" height="16" fill="#1c1c20"/>
<circle cx="542.0" cy="787.5" r="1.4" fill="#eee"/>
<circle cx="542.0" cy="797.5" r="1.4" fill="#eee"/>
<circle cx="689.0" cy="787.5" r="1.4" fill="#eee"/>
<circle cx="689.0" cy="797.5" r="1.4" fill="#eee"/>
<rect x="548.5" y="787" width="7" height="11" fill="#0e0e10"/>
<rect x="559.5" y="787" width="3.4" height="4.6" fill="#4e4a4e"/>
<rect x="560.2" y="788" width="2" height="2.8" fill="#161214"/>
<rect x="563.2" y="787" width="3.4" height="4.6" fill="#4e4a4e"/>
<rect x="563.9" y="788" width="2" height="2.8" fill="#161214"/>
<rect x="566.9" y="787" width="3.4" height="4.6" fill="#4e4a4e"/>
<rect x="567.6" y="788" width="2" height="2.8" fill="#161214"/>
<rect x="570.6" y="787" width="3.4" height="4.6" fill="#4e4a4e"/>
<rect x="571.3" y="788" width="2" height="2.8" fill="#161214"/>
<rect x="574.3" y="787" width="3.4" height="4.6" fill="#4e4a4e"/>
<rect x="575.0" y="788" width="2" height="2.8" fill="#161214"/>
<rect x="578.0" y="787" width="3.4" height="4.6" fill="#4e4a4e"/>
<rect x="578.7" y="788" width="2" height="2.8" fill="#161214"/>
<rect x="581.7" y="787" width="3.4" height="4.6" fill="#4e4a4e"/>
<rect x="582.4" y="788" width="2" height="2.8" fill="#161214"/>
<rect x="585.4" y="787" width="3.4" height="4.6" fill="#4e4a4e"/>
<rect x="586.1" y="788" width="2" height="2.8" fill="#161214"/>
<rect x="589.1" y="787" width="3.4" height="4.6" fill="#4e4a4e"/>
<rect x="589.8" y="788" width="2" height="2.8" fill="#161214"/>
<rect x="592.8" y="787" width="3.4" height="4.6" fill="#4e4a4e"/>
<rect x="593.5" y="788" width="2" height="2.8" fill="#161214"/>
<rect x="596.5" y="787" width="3.4" height="4.6" fill="#4e4a4e"/>
<rect x="597.2" y="788" width="2" height="2.8" fill="#161214"/>
<rect x="600.2" y="787" width="3.4" height="4.6" fill="#4e4a4e"/>
<rect x="600.9" y="788" width="2" height="2.8" fill="#161214"/>
<rect x="603.9" y="787" width="3.4" height="4.6" fill="#4e4a4e"/>
<rect x="604.6" y="788" width="2" height="2.8" fill="#161214"/>
<rect x="607.6" y="787" width="3.4" height="4.6" fill="#4e4a4e"/>
<rect x="608.3" y="788" width="2" height="2.8" fill="#161214"/>
<rect x="611.3" y="787" width="3.4" height="4.6" fill="#4e4a4e"/>
<rect x="612.0" y="788" width="2" height="2.8" fill="#161214"/>
<rect x="615.0" y="787" width="3.4" height="4.6" fill="#4e4a4e"/>
<rect x="615.7" y="788" width="2" height="2.8" fill="#161214"/>
<rect x="618.7" y="787" width="3.4" height="4.6" fill="#4e4a4e"/>
<rect x="619.4" y="788" width="2" height="2.8" fill="#161214"/>
<rect x="622.4" y="787" width="3.4" height="4.6" fill="#4e4a4e"/>
<rect x="623.1" y="788" width="2" height="2.8" fill="#161214"/>
<rect x="626.1" y="787" width="3.4" height="4.6" fill="#4e4a4e"/>
<rect x="626.8" y="788" width="2" height="2.8" fill="#161214"/>
<rect x="629.8" y="787" width="3.4" height="4.6" fill="#4e4a4e"/>
<rect x="630.5" y="788" width="2" height="2.8" fill="#161214"/>
<rect x="633.5" y="787" width="3.4" height="4.6" fill="#4e4a4e"/>
<rect x="634.2" y="788" width="2" height="2.8" fill="#161214"/>
<rect x="637.2" y="787" width="3.4" height="4.6" fill="#4e4a4e"/>
<rect x="637.9" y="788" width="2" height="2.8" fill="#161214"/>
<rect x="640.9" y="787" width="3.4" height="4.6" fill="#4e4a4e"/>
<rect x="641.6" y="788" width="2" height="2.8" fill="#161214"/>
<rect x="644.6" y="787" width="3.4" height="4.6" fill="#4e4a4e"/>
<rect x="645.3" y="788" width="2" height="2.8" fill="#161214"/>
<rect x="648.3" y="787" width="3.4" height="4.6" fill="#4e4a4e"/>
<rect x="649.0" y="788" width="2" height="2.8" fill="#161214"/>
<rect x="652.0" y="787" width="3.4" height="4.6" fill="#4e4a4e"/>
<rect x="652.7" y="788" width="2" height="2.8" fill="#161214"/>
<rect x="655.7" y="787" width="3.4" height="4.6" fill="#4e4a4e"/>
<rect x="656.4" y="788" width="2" height="2.8" fill="#161214"/>
<rect x="659.4" y="787" width="3.4" height="4.6" fill="#4e4a4e"/>
<rect x="660.1" y="788" width="2" height="2.8" fill="#161214"/>
<rect x="559.5" y="793" width="3.4" height="4.6" fill="#4e4a4e"/>
<rect x="560.2" y="794" width="2" height="2.8" fill="#161214"/>
<rect x="563.2" y="793" width="3.4" height="4.6" fill="#4e4a4e"/>
<rect x="563.9" y="794" width="2" height="2.8" fill="#161214"/>
<rect x="566.9" y="793" width="3.4" height="4.6" fill="#4e4a4e"/>
<rect x="567.6" y="794" width="2" height="2.8" fill="#161214"/>
<rect x="570.6" y="793" width="3.4" height="4.6" fill="#4e4a4e"/>
<rect x="571.3" y="794" width="2" height="2.8" fill="#161214"/>
<rect x="574.3" y="793" width="3.4" height="4.6" fill="#4e4a4e"/>
<rect x="575.0" y="794" width="2" height="2.8" fill="#161214"/>
<rect x="578.0" y="793" width="3.4" height="4.6" fill="#4e4a4e"/>
<rect x="578.7" y="794" width="2" height="2.8" fill="#161214"/>
<rect x="581.7" y="793" width="3.4" height="4.6" fill="#4e4a4e"/>
<rect x="582.4" y="794" width="2" height="2.8" fill="#161214"/>
<rect x="585.4" y="793" width="3.4" height="4.6" fill="#4e4a4e"/>
<rect x="586.1" y="794" width="2" height="2.8" fill="#161214"/>
<rect x="589.1" y="793" width="3.4" height="4.6" fill="#4e4a4e"/>
<rect x="589.8" y="794" width="2" height="2.8" fill="#161214"/>
<rect x="592.8" y="793" width="3.4" height="4.6" fill="#4e4a4e"/>
<rect x="593.5" y="794" width="2" height="2.8" fill="#161214"/>
<rect x="596.5" y="793" width="3.4" height="4.6" fill="#4e4a4e"/>
<rect x="597.2" y="794" width="2" height="2.8" fill="#161214"/>
<rect x="600.2" y="793" width="3.4" height="4.6" fill="#4e4a4e"/>
<rect x="600.9" y="794" width="2" height="2.8" fill="#161214"/>
<rect x="603.9" y="793" width="3.4" height="4.6" fill="#4e4a4e"/>
<rect x="604.6" y="794" width="2" height="2.8" fill="#161214"/>
<rect x="607.6" y="793" width="3.4" height="4.6" fill="#4e4a4e"/>
<rect x="608.3" y="794" width="2" height="2.8" fill="#161214"/>
<rect x="611.3" y="793" width="3.4" height="4.6" fill="#4e4a4e"/>
<rect x="612.0" y="794" width="2" height="2.8" fill="#161214"/>
<rect x="615.0" y="793" width="3.4" height="4.6" fill="#4e4a4e"/>
<rect x="615.7" y="794" width="2" height="2.8" fill="#161214"/>
<rect x="618.7" y="793" width="3.4" height="4.6" fill="#4e4a4e"/>
<rect x="619.4" y="794" width="2" height="2.8" fill="#161214"/>
<rect x="622.4" y="793" width="3.4" height="4.6" fill="#4e4a4e"/>
<rect x="623.1" y="794" width="2" height="2.8" fill="#161214"/>
<rect x="626.1" y="793" width="3.4" height="4.6" fill="#4e4a4e"/>
<rect x="626.8" y="794" width="2" height="2.8" fill="#161214"/>
<rect x="629.8" y="793" width="3.4" height="4.6" fill="#4e4a4e"/>
<rect x="630.5" y="794" width="2" height="2.8" fill="#161214"/>
<rect x="633.5" y="793" width="3.4" height="4.6" fill="#4e4a4e"/>
<rect x="634.2" y="794" width="2" height="2.8" fill="#161214"/>
<rect x="637.2" y="793" width="3.4" height="4.6" fill="#4e4a4e"/>
<rect x="637.9" y="794" width="2" height="2.8" fill="#161214"/>
<rect x="640.9" y="793" width="3.4" height="4.6" fill="#4e4a4e"/>
<rect x="641.6" y="794" width="2" height="2.8" fill="#161214"/>
<rect x="644.6" y="793" width="3.4" height="4.6" fill="#4e4a4e"/>
<rect x="645.3" y="794" width="2" height="2.8" fill="#161214"/>
<rect x="648.3" y="793" width="3.4" height="4.6" fill="#4e4a4e"/>
<rect x="649.0" y="794" width="2" height="2.8" fill="#161214"/>
<rect x="652.0" y="793" width="3.4" height="4.6" fill="#4e4a4e"/>
<rect x="652.7" y="794" width="2" height="2.8" fill="#161214"/>
<rect x="655.7" y="793" width="3.4" height="4.6" fill="#4e4a4e"/>
<rect x="656.4" y="794" width="2" height="2.8" fill="#161214"/>
<rect x="659.4" y="793" width="3.4" height="4.6" fill="#4e4a4e"/>
<rect x="660.1" y="794" width="2" height="2.8" fill="#161214"/>
<rect x="665.5" y="787" width="4" height="4.5" fill="#3a3a3e"/>
<rect x="670.5" y="787" width="4" height="4.5" fill="#3a3a3e"/>
<rect x="665.5" y="793" width="4" height="4.5" fill="#3a3a3e"/>
<rect x="670.5" y="793" width="4" height="4.5" fill="#3a3a3e"/>
<rect x="676.5" y="792.5" width="6" height="5" fill="#d0d0d0"/>
<rect x="677.5" y="793.5" width="4" height="3" fill="#222"/>
<path d="M15.5,929 C16,920 20,914.2 36,914.2 C52,914.2 56.5,920 57,929 Z" fill="url(#dome)" stroke="#b8b8bc" stroke-width="0.7"/>
<path d="M17.5,927.5 L54,927.5 C54,940 47,946.6 36,946.6 C25,946.6 17.5,940 17.5,927.5 Z" fill="#1c1c20"/>
<ellipse cx="36" cy="927.5" rx="19" ry="2.2" fill="#dcdce0"/>
<circle cx="32.5" cy="937" r="5" fill="#3a3a40" stroke="#8a8a90" stroke-width="1.2"/>
<circle cx="32.5" cy="937" r="1.8" fill="#d0d0d8"/>
<polygon points="99,925 118.5,921 118.5,940 99,943.5" fill="#d4d4d8" stroke="#b0b0b4" stroke-width="0.5"/>
<polygon points="100,931 117,928.5 117,933 100,935.5" fill="#909094"/>
<polygon points="81,926.5 100,925 100,944 82,945" fill="#f0f0f2" stroke="#c0c0c4" stroke-width="0.5"/>
<polygon points="76,926.5 81,925.5 119,919.5 119.5,922 100,925.5 81,928.5 76.5,928.5" fill="#e2e2e4" stroke="#b4b4b8" stroke-width="0.5"/>
<polygon points="75.5,926.5 81,926 81,928.8 76,928.8" fill="#2a2a2c"/>
<circle cx="86" cy="932" r="1.8" fill="#2a2a2e"/>
<circle cx="92.5" cy="932.8" r="1.8" fill="#2a2a2e"/>
<circle cx="89.7" cy="939.2" r="3.1" fill="#141416"/>
<path d="M151,899 L156,898.5 Q172,902 184,904.5 L189.5,903.5 L189.5,928 L184,927 L183.5,911 Q170,908.5 160,912 L158,915 L152,914 Z" fill="#e2e2e4" stroke="#a4a4a8" stroke-width="0.7"/>
<path d="M155,909.5 C166,909.5 170.5,920 170.5,930 C170.5,942 164,949.5 155,949.5 C146,949.5 139,942 139,930 C139,920 144,909.5 155,909.5 Z" fill="url(#dome)" stroke="#b0b0b4" stroke-width="0.7"/>
<circle cx="155" cy="940.5" r="9.2" fill="#1a1a1e"/>
<circle cx="161.6" cy="940.5" r="1.1" fill="#e8e8e8"/>
<circle cx="160.7" cy="943.8" r="1.1" fill="#e8e8e8"/>
<circle cx="158.3" cy="946.2" r="1.1" fill="#e8e8e8"/>
<circle cx="155.0" cy="947.1" r="1.1" fill="#e8e8e8"/>
<circle cx="151.7" cy="946.2" r="1.1" fill="#e8e8e8"/>
<circle cx="149.3" cy="943.8" r="1.1" fill="#e8e8e8"/>
<circle cx="148.4" cy="940.5" r="1.1" fill="#e8e8e8"/>
<circle cx="149.3" cy="937.2" r="1.1" fill="#e8e8e8"/>
<circle cx="151.7" cy="934.8" r="1.1" fill="#e8e8e8"/>
<circle cx="155.0" cy="933.9" r="1.1" fill="#e8e8e8"/>
<circle cx="158.3" cy="934.8" r="1.1" fill="#e8e8e8"/>
<circle cx="160.7" cy="937.2" r="1.1" fill="#e8e8e8"/>
<circle cx="155" cy="940.5" r="3.5" fill="#3a3a40"/>
<path d="M525.5,929 C526,920 530,914.2 546,914.2 C562,914.2 566.5,920 567,929 Z" fill="url(#dome)" stroke="#b8b8bc" stroke-width="0.7"/>
<path d="M527.5,927.5 L564,927.5 C564,940 557,946.6 546,946.6 C535,946.6 527.5,940 527.5,927.5 Z" fill="#1c1c20"/>
<ellipse cx="546" cy="927.5" rx="19" ry="2.2" fill="#dcdce0"/>
<circle cx="542.5" cy="937" r="5" fill="#3a3a40" stroke="#8a8a90" stroke-width="1.2"/>
<circle cx="542.5" cy="937" r="1.8" fill="#d0d0d8"/>
<polygon points="609,925 628.5,921 628.5,940 609,943.5" fill="#d4d4d8" stroke="#b0b0b4" stroke-width="0.5"/>
<polygon points="610,931 627,928.5 627,933 610,935.5" fill="#909094"/>
<polygon points="591,926.5 610,925 610,944 592,945" fill="#f0f0f2" stroke="#c0c0c4" stroke-width="0.5"/>
<polygon points="586,926.5 591,925.5 629,919.5 629.5,922 610,925.5 591,928.5 586.5,928.5" fill="#e2e2e4" stroke="#b4b4b8" stroke-width="0.5"/>
<polygon points="585.5,926.5 591,926 591,928.8 586,928.8" fill="#2a2a2c"/>
<circle cx="596" cy="932" r="1.8" fill="#2a2a2e"/>
<circle cx="602.5" cy="932.8" r="1.8" fill="#2a2a2e"/>
<circle cx="599.7" cy="939.2" r="3.1" fill="#141416"/>
<path d="M661,899 L666,898.5 Q682,902 694,904.5 L699.5,903.5 L699.5,928 L694,927 L693.5,911 Q680,908.5 670,912 L668,915 L662,914 Z" fill="#e2e2e4" stroke="#a4a4a8" stroke-width="0.7"/>
<path d="M665,909.5 C676,909.5 680.5,920 680.5,930 C680.5,942 674,949.5 665,949.5 C656,949.5 649,942 649,930 C649,920 654,909.5 665,909.5 Z" fill="url(#dome)" stroke="#b0b0b4" stroke-width="0.7"/>
<circle cx="665" cy="940.5" r="9.2" fill="#1a1a1e"/>
<circle cx="671.6" cy="940.5" r="1.1" fill="#e8e8e8"/>
<circle cx="670.7" cy="943.8" r="1.1" fill="#e8e8e8"/>
<circle cx="668.3" cy="946.2" r="1.1" fill="#e8e8e8"/>
<circle cx="665.0" cy="947.1" r="1.1" fill="#e8e8e8"/>
<circle cx="661.7" cy="946.2" r="1.1" fill="#e8e8e8"/>
<circle cx="659.3" cy="943.8" r="1.1" fill="#e8e8e8"/>
<circle cx="658.4" cy="940.5" r="1.1" fill="#e8e8e8"/>
<circle cx="659.3" cy="937.2" r="1.1" fill="#e8e8e8"/>
<circle cx="661.7" cy="934.8" r="1.1" fill="#e8e8e8"/>
<circle cx="665.0" cy="933.9" r="1.1" fill="#e8e8e8"/>
<circle cx="668.3" cy="934.8" r="1.1" fill="#e8e8e8"/>
<circle cx="670.7" cy="937.2" r="1.1" fill="#e8e8e8"/>
<circle cx="665" cy="940.5" r="3.5" fill="#3a3a40"/>
<polygon points="286,917 341,917 346,927 280,927" fill="url(#encl)"/>
<rect x="280" y="926.5" width="66" height="9.5" fill="url(#encf)"/>
<polygon points="280,930 280,937 277,937 278,933" fill="#2a2a2c"/>
<polygon points="346,930 346,937 349,937 348,933" fill="#2a2a2c"/>
<rect x="289" y="929" width="4.5" height="5" fill="#151515"/>
<circle cx="299" cy="931.5" r="1" fill="#555"/>
<circle cx="305" cy="931.5" r="1.2" fill="#333"/>
<rect x="310" y="928.5" width="15" height="5.5" rx="1.5" fill="#4a5a9c" stroke="#8890b0" stroke-width="0.6"/>
<rect x="329" y="929" width="6.5" height="5.5" fill="#1a1a1a"/>
<polygon points="369.5,917 424.5,917 429.5,927 363.5,927" fill="url(#encl)"/>
<rect x="363.5" y="926.5" width="66" height="9.5" fill="url(#encf)"/>
<polygon points="363.5,930 363.5,937 360.5,937 361.5,933" fill="#2a2a2c"/>
<polygon points="429.5,930 429.5,937 432.5,937 431.5,933" fill="#2a2a2c"/>
<rect x="372.5" y="929" width="4.5" height="5" fill="#151515"/>
<circle cx="382.5" cy="931.5" r="1" fill="#555"/>
<circle cx="388.5" cy="931.5" r="1.2" fill="#333"/>
<rect x="393.5" y="928.5" width="15" height="5.5" rx="1.5" fill="#4a5a9c" stroke="#8890b0" stroke-width="0.6"/>
<rect x="412.5" y="929" width="6.5" height="5.5" fill="#1a1a1a"/>
<g fill="#5c5c5e" stroke="#5c5c5e" stroke-width="0.4" stroke-linejoin="round">
<polygon points="596.0,1077.3 597.8,1075.3 599.7,1074.7 604.6,1075.3 608.3,1075.3 612.3,1076.3 618.4,1074.2 621.5,1075.3 623.0,1078.8 619.0,1080.2 620.9,1082.4 623.0,1083.6 623.7,1081.1 626.1,1080.2 628.6,1081.1 630.4,1083.6 627.3,1086.3 626.1,1087.5 624.3,1088.9 622.7,1091.3 623.0,1092.9 622.4,1093.2 622.1,1091.6 620.0,1091.9 617.8,1092.6 617.8,1094.2 620.0,1094.8 620.6,1096.4 622.1,1097.9 623.7,1098.6 623.0,1098.9 621.2,1097.3 619.4,1096.4 615.4,1094.8 613.8,1093.6 613.2,1091.3 611.7,1090.9 609.5,1088.2 609.5,1085.2 607.7,1082.4 604.6,1080.2 600.9,1080.7 596.9,1082.4 598.5,1080.2 596.6,1079.3"/>
<polygon points="609.2,1074.2 618.4,1073.0 623.0,1073.6 627.6,1070.5 624.6,1067.7 618.4,1068.5 612.3,1071.2"/>
<polygon points="625.5,1070.5 629.2,1067.7 635.3,1067.0 640.9,1068.5 641.5,1073.6 635.3,1077.8 633.8,1080.2 631.6,1078.3 630.4,1074.2 627.3,1071.8"/>
<polygon points="623.0,1098.6 625.5,1097.3 628.6,1097.9 632.3,1101.0 636.9,1102.5 635.9,1104.9 635.3,1107.8 632.9,1109.0 629.8,1112.0 628.3,1113.8 627.3,1116.4 626.1,1118.7 624.6,1118.3 625.2,1113.8 625.8,1110.3 626.1,1106.5 624.3,1105.2 622.7,1102.5 623.3,1100.4"/>
<polygon points="644.5,1089.6 644.9,1087.1 647.0,1086.7 646.1,1085.2 648.2,1084.0 650.1,1082.8 649.2,1081.1 650.7,1078.8 653.2,1075.3 656.8,1074.7 659.9,1076.8 661.4,1076.3 666.1,1075.8 669.1,1073.6 672.2,1073.6 678.3,1071.2 683.0,1073.0 687.6,1074.7 690.6,1074.2 696.8,1075.3 699.9,1075.3 702.9,1077.3 706.0,1077.8 702.3,1079.3 698.3,1080.2 696.8,1082.4 695.2,1083.6 690.6,1082.4 689.1,1086.7 686.9,1088.9 685.1,1088.2 684.5,1089.9 685.1,1091.6 683.9,1093.6 681.4,1094.8 680.8,1097.3 679.6,1098.2 678.3,1097.0 677.7,1098.6 679.3,1100.7 677.7,1099.5 675.9,1094.5 672.2,1096.4 671.3,1098.6 669.7,1094.8 667.9,1093.2 665.4,1093.2 664.8,1092.6 662.4,1091.6 663.6,1093.6 665.4,1094.8 663.6,1097.0 661.1,1097.3 658.4,1092.3 658.4,1089.6 656.2,1089.2 655.6,1087.8 653.8,1088.2 652.5,1088.9 651.3,1086.7 650.1,1086.7 648.5,1087.5 646.1,1089.6"/>
<polygon points="642.4,1094.5 642.7,1097.3 645.2,1099.5 649.2,1099.5 650.4,1099.8 650.7,1101.6 651.6,1104.6 651.3,1106.5 653.2,1111.7 655.3,1111.7 657.8,1109.4 659.9,1105.9 659.9,1104.0 663.3,1097.3 660.8,1097.3 658.4,1092.3 657.5,1091.3 653.8,1090.9 650.7,1089.2 645.8,1089.6 644.5,1091.6"/>
<polygon points="661.1,1108.7 662.4,1108.4 663.0,1105.2 662.1,1105.6"/>
<polygon points="682.6,1107.8 685.1,1106.5 687.6,1104.6 689.7,1104.6 691.3,1104.3 692.5,1106.8 694.6,1109.4 693.7,1112.7 690.6,1113.1 687.9,1111.0 683.0,1111.7"/>
<polygon points="645.8,1084.4 647.9,1084.0 647.0,1081.5 646.1,1080.7 645.5,1082.0"/>
<polygon points="687.6,1091.3 690.6,1089.6 691.3,1087.1 690.9,1086.3 690.3,1088.2 688.5,1090.3"/>
<polygon points="676.8,1099.5 679.9,1102.8 683.0,1103.4 684.5,1103.7 683.9,1101.0 681.4,1100.4"/>
<polygon points="687.9,1101.6 690.9,1101.9 693.7,1104.0 690.9,1103.7"/>
<polygon points="700.5,1111.7 702.3,1113.1 700.5,1116.0 698.9,1116.0"/>
<polygon points="640.2,1078.3 643.3,1077.8 642.7,1077.1 640.9,1077.1"/>
</g>
</svg><!--/DEV-->
<!-- bottom bars -->
<div class="a" style="left:6px;top:1037px;width:224px;height:3px;background:#1565a8"></div>
<div class="a" style="left:232px;top:1037px;width:479px;height:3px;background:#555"></div>

<div class="a" style="left:588px;top:1040px;font-size:9px;line-height:12px;color:#888;white-space:nowrap">全球营销网络</div>
<div class="a" style="left:588px;top:1052px;font-size:9.5px;line-height:12px;color:#888;white-space:nowrap">global maeketing network</div>

</body></html>
